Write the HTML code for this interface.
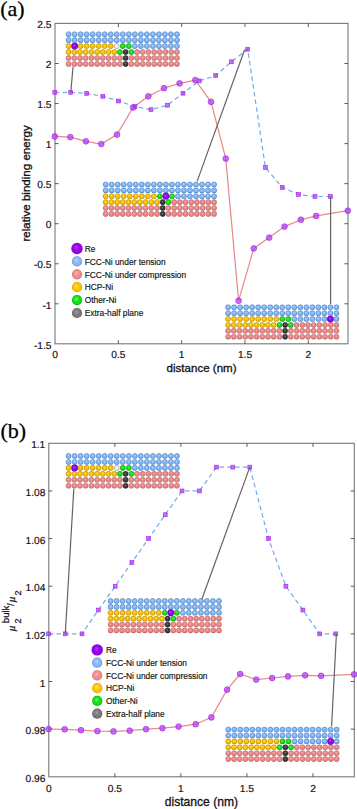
<!DOCTYPE html><html><head><meta charset="utf-8"><style>html,body{margin:0;padding:0;background:#fff;overflow:hidden;width:357px;height:809px;}svg{display:block;}</style></head><body>
<svg width="357" height="809" viewBox="0 0 357 809">
<defs>
<radialGradient id="gb" cx="0.5" cy="0.5" r="0.5" fx="0.42" fy="0.36"><stop offset="0" stop-color="#b4d8ff"/><stop offset="0.5" stop-color="#80b6f4"/><stop offset="0.78" stop-color="#80b6f4"/><stop offset="1" stop-color="#4f86cf"/></radialGradient>
<radialGradient id="gy" cx="0.5" cy="0.5" r="0.5" fx="0.42" fy="0.36"><stop offset="0" stop-color="#ffe060"/><stop offset="0.5" stop-color="#f7c300"/><stop offset="0.78" stop-color="#f7c300"/><stop offset="1" stop-color="#c99500"/></radialGradient>
<radialGradient id="gp" cx="0.5" cy="0.5" r="0.5" fx="0.42" fy="0.36"><stop offset="0" stop-color="#ffb0b0"/><stop offset="0.5" stop-color="#ec8686"/><stop offset="0.78" stop-color="#ec8686"/><stop offset="1" stop-color="#bf5c5c"/></radialGradient>
<radialGradient id="gg" cx="0.5" cy="0.5" r="0.5" fx="0.42" fy="0.36"><stop offset="0" stop-color="#60ff60"/><stop offset="0.5" stop-color="#14e014"/><stop offset="0.78" stop-color="#14e014"/><stop offset="1" stop-color="#089a08"/></radialGradient>
<radialGradient id="gk" cx="0.5" cy="0.5" r="0.5" fx="0.42" fy="0.36"><stop offset="0" stop-color="#7a7a7a"/><stop offset="0.5" stop-color="#3a3a3a"/><stop offset="0.78" stop-color="#3a3a3a"/><stop offset="1" stop-color="#1c1c1c"/></radialGradient>
<radialGradient id="gw" cx="0.5" cy="0.5" r="0.5" fx="0.42" fy="0.36"><stop offset="0" stop-color="#ffffff"/><stop offset="0.5" stop-color="#ececec"/><stop offset="0.78" stop-color="#ececec"/><stop offset="1" stop-color="#a8a8a8"/></radialGradient>
<radialGradient id="gv" cx="0.5" cy="0.5" r="0.5" fx="0.42" fy="0.36"><stop offset="0" stop-color="#b44cff"/><stop offset="0.5" stop-color="#9400ea"/><stop offset="0.78" stop-color="#9400ea"/><stop offset="1" stop-color="#6c00b0"/></radialGradient>
<radialGradient id="Lv" cx="0.5" cy="0.5" r="0.5" fx="0.42" fy="0.36"><stop offset="0" stop-color="#b040ff"/><stop offset="0.5" stop-color="#9800ee"/><stop offset="0.78" stop-color="#9800ee"/><stop offset="1" stop-color="#7a00c4"/></radialGradient>
<radialGradient id="Lb" cx="0.5" cy="0.5" r="0.5" fx="0.42" fy="0.36"><stop offset="0" stop-color="#b8d8ff"/><stop offset="0.5" stop-color="#8ab8f6"/><stop offset="0.78" stop-color="#8ab8f6"/><stop offset="1" stop-color="#5a8cd0"/></radialGradient>
<radialGradient id="Lp" cx="0.5" cy="0.5" r="0.5" fx="0.42" fy="0.36"><stop offset="0" stop-color="#ffb6b6"/><stop offset="0.5" stop-color="#f08c8c"/><stop offset="0.78" stop-color="#f08c8c"/><stop offset="1" stop-color="#c86a6a"/></radialGradient>
<radialGradient id="Ly" cx="0.5" cy="0.5" r="0.5" fx="0.42" fy="0.36"><stop offset="0" stop-color="#ffe070"/><stop offset="0.5" stop-color="#fcc500"/><stop offset="0.78" stop-color="#fcc500"/><stop offset="1" stop-color="#cc9a00"/></radialGradient>
<radialGradient id="Lg" cx="0.5" cy="0.5" r="0.5" fx="0.42" fy="0.36"><stop offset="0" stop-color="#70ff70"/><stop offset="0.5" stop-color="#14e014"/><stop offset="0.78" stop-color="#14e014"/><stop offset="1" stop-color="#0a9a0a"/></radialGradient>
<radialGradient id="Lk2" cx="0.5" cy="0.5" r="0.5" fx="0.42" fy="0.36"><stop offset="0" stop-color="#a4a4a4"/><stop offset="0.5" stop-color="#7a7a7a"/><stop offset="0.78" stop-color="#7a7a7a"/><stop offset="1" stop-color="#555555"/></radialGradient>
</defs>
<rect width="357" height="809" fill="#fff"/>
<text x="0.2" y="15.9" font-family='"Liberation Serif", serif' font-size="22" stroke="#000" stroke-width="0.25">(a)</text>
<rect x="55" y="23.4" width="293" height="320.4" fill="none" stroke="#787878" stroke-width="1.1"/>
<g stroke="#404040" stroke-width="0.85"><line x1="55" y1="63.5" x2="58.6" y2="63.5"/><line x1="348" y1="63.5" x2="344.4" y2="63.5"/><line x1="55" y1="103.55" x2="58.6" y2="103.55"/><line x1="348" y1="103.55" x2="344.4" y2="103.55"/><line x1="55" y1="143.6" x2="58.6" y2="143.6"/><line x1="348" y1="143.6" x2="344.4" y2="143.6"/><line x1="55" y1="183.65" x2="58.6" y2="183.65"/><line x1="348" y1="183.65" x2="344.4" y2="183.65"/><line x1="55" y1="223.7" x2="58.6" y2="223.7"/><line x1="348" y1="223.7" x2="344.4" y2="223.7"/><line x1="55" y1="263.75" x2="58.6" y2="263.75"/><line x1="348" y1="263.75" x2="344.4" y2="263.75"/><line x1="55" y1="303.8" x2="58.6" y2="303.8"/><line x1="348" y1="303.8" x2="344.4" y2="303.8"/><line x1="118.33" y1="343.8" x2="118.33" y2="340.2"/><line x1="118.33" y1="23.4" x2="118.33" y2="27"/><line x1="181.65" y1="343.8" x2="181.65" y2="340.2"/><line x1="181.65" y1="23.4" x2="181.65" y2="27"/><line x1="244.98" y1="343.8" x2="244.98" y2="340.2"/><line x1="244.98" y1="23.4" x2="244.98" y2="27"/><line x1="308.3" y1="343.8" x2="308.3" y2="340.2"/><line x1="308.3" y1="23.4" x2="308.3" y2="27"/></g>
<g font-family='"Liberation Sans", sans-serif' font-size="10.2" fill="#111" stroke="#111" stroke-width="0.18" text-rendering="geometricPrecision"><text x="51.5" y="28.15" text-anchor="end">2.5</text><text x="51.5" y="68.2" text-anchor="end">2</text><text x="51.5" y="108.25" text-anchor="end">1.5</text><text x="51.5" y="148.3" text-anchor="end">1</text><text x="51.5" y="188.35" text-anchor="end">0.5</text><text x="51.5" y="228.4" text-anchor="end">0</text><text x="51.5" y="268.45" text-anchor="end">-0.5</text><text x="51.5" y="308.5" text-anchor="end">-1</text><text x="51.5" y="348.55" text-anchor="end">-1.5</text><text x="55" y="358.1" text-anchor="middle">0</text><text x="118.33" y="358.1" text-anchor="middle">0.5</text><text x="181.65" y="358.1" text-anchor="middle">1</text><text x="244.98" y="358.1" text-anchor="middle">1.5</text><text x="308.3" y="358.1" text-anchor="middle">2</text></g>
<circle cx="68.6" cy="34.2" r="2.55" fill="url(#gb)" stroke="#4f7fc0" stroke-width="0.5"/>
<circle cx="74.62" cy="34.2" r="2.55" fill="url(#gb)" stroke="#4f7fc0" stroke-width="0.5"/>
<circle cx="80.64" cy="34.2" r="2.55" fill="url(#gb)" stroke="#4f7fc0" stroke-width="0.5"/>
<circle cx="86.66" cy="34.2" r="2.55" fill="url(#gb)" stroke="#4f7fc0" stroke-width="0.5"/>
<circle cx="92.68" cy="34.2" r="2.55" fill="url(#gb)" stroke="#4f7fc0" stroke-width="0.5"/>
<circle cx="98.7" cy="34.2" r="2.55" fill="url(#gb)" stroke="#4f7fc0" stroke-width="0.5"/>
<circle cx="104.72" cy="34.2" r="2.55" fill="url(#gb)" stroke="#4f7fc0" stroke-width="0.5"/>
<circle cx="110.74" cy="34.2" r="2.55" fill="url(#gb)" stroke="#4f7fc0" stroke-width="0.5"/>
<circle cx="116.76" cy="34.2" r="2.55" fill="url(#gb)" stroke="#4f7fc0" stroke-width="0.5"/>
<circle cx="122.78" cy="34.2" r="2.55" fill="url(#gb)" stroke="#4f7fc0" stroke-width="0.5"/>
<circle cx="128.8" cy="34.2" r="2.55" fill="url(#gb)" stroke="#4f7fc0" stroke-width="0.5"/>
<circle cx="134.82" cy="34.2" r="2.55" fill="url(#gb)" stroke="#4f7fc0" stroke-width="0.5"/>
<circle cx="140.84" cy="34.2" r="2.55" fill="url(#gb)" stroke="#4f7fc0" stroke-width="0.5"/>
<circle cx="146.86" cy="34.2" r="2.55" fill="url(#gb)" stroke="#4f7fc0" stroke-width="0.5"/>
<circle cx="152.88" cy="34.2" r="2.55" fill="url(#gb)" stroke="#4f7fc0" stroke-width="0.5"/>
<circle cx="158.9" cy="34.2" r="2.55" fill="url(#gb)" stroke="#4f7fc0" stroke-width="0.5"/>
<circle cx="164.92" cy="34.2" r="2.55" fill="url(#gb)" stroke="#4f7fc0" stroke-width="0.5"/>
<circle cx="170.94" cy="34.2" r="2.55" fill="url(#gb)" stroke="#4f7fc0" stroke-width="0.5"/>
<circle cx="176.96" cy="34.2" r="2.55" fill="url(#gb)" stroke="#4f7fc0" stroke-width="0.5"/>
<circle cx="68.6" cy="40.15" r="2.55" fill="url(#gb)" stroke="#4f7fc0" stroke-width="0.5"/>
<circle cx="74.62" cy="40.15" r="2.55" fill="url(#gb)" stroke="#4f7fc0" stroke-width="0.5"/>
<circle cx="80.64" cy="40.15" r="2.55" fill="url(#gb)" stroke="#4f7fc0" stroke-width="0.5"/>
<circle cx="86.66" cy="40.15" r="2.55" fill="url(#gb)" stroke="#4f7fc0" stroke-width="0.5"/>
<circle cx="92.68" cy="40.15" r="2.55" fill="url(#gb)" stroke="#4f7fc0" stroke-width="0.5"/>
<circle cx="98.7" cy="40.15" r="2.55" fill="url(#gb)" stroke="#4f7fc0" stroke-width="0.5"/>
<circle cx="104.72" cy="40.15" r="2.55" fill="url(#gb)" stroke="#4f7fc0" stroke-width="0.5"/>
<circle cx="110.74" cy="40.15" r="2.55" fill="url(#gb)" stroke="#4f7fc0" stroke-width="0.5"/>
<circle cx="116.76" cy="40.15" r="2.55" fill="url(#gb)" stroke="#4f7fc0" stroke-width="0.5"/>
<circle cx="122.78" cy="40.15" r="2.55" fill="url(#gb)" stroke="#4f7fc0" stroke-width="0.5"/>
<circle cx="128.8" cy="40.15" r="2.55" fill="url(#gb)" stroke="#4f7fc0" stroke-width="0.5"/>
<circle cx="134.82" cy="40.15" r="2.55" fill="url(#gb)" stroke="#4f7fc0" stroke-width="0.5"/>
<circle cx="140.84" cy="40.15" r="2.55" fill="url(#gb)" stroke="#4f7fc0" stroke-width="0.5"/>
<circle cx="146.86" cy="40.15" r="2.55" fill="url(#gb)" stroke="#4f7fc0" stroke-width="0.5"/>
<circle cx="152.88" cy="40.15" r="2.55" fill="url(#gb)" stroke="#4f7fc0" stroke-width="0.5"/>
<circle cx="158.9" cy="40.15" r="2.55" fill="url(#gb)" stroke="#4f7fc0" stroke-width="0.5"/>
<circle cx="164.92" cy="40.15" r="2.55" fill="url(#gb)" stroke="#4f7fc0" stroke-width="0.5"/>
<circle cx="170.94" cy="40.15" r="2.55" fill="url(#gb)" stroke="#4f7fc0" stroke-width="0.5"/>
<circle cx="176.96" cy="40.15" r="2.55" fill="url(#gb)" stroke="#4f7fc0" stroke-width="0.5"/>
<circle cx="68.6" cy="46.1" r="2.55" fill="url(#gy)" stroke="#b88a00" stroke-width="0.5"/>
<circle cx="80.64" cy="46.1" r="2.55" fill="url(#gy)" stroke="#b88a00" stroke-width="0.5"/>
<circle cx="86.66" cy="46.1" r="2.55" fill="url(#gy)" stroke="#b88a00" stroke-width="0.5"/>
<circle cx="92.68" cy="46.1" r="2.55" fill="url(#gy)" stroke="#b88a00" stroke-width="0.5"/>
<circle cx="98.7" cy="46.1" r="2.55" fill="url(#gy)" stroke="#b88a00" stroke-width="0.5"/>
<circle cx="104.72" cy="46.1" r="2.55" fill="url(#gy)" stroke="#b88a00" stroke-width="0.5"/>
<circle cx="110.74" cy="46.1" r="2.55" fill="url(#gy)" stroke="#b88a00" stroke-width="0.5"/>
<circle cx="116.76" cy="46.1" r="2.55" fill="url(#gw)" stroke="#a0a0a0" stroke-width="0.5"/>
<circle cx="122.78" cy="46.1" r="2.55" fill="url(#gg)" stroke="#0a9a0a" stroke-width="0.5"/>
<circle cx="128.8" cy="46.1" r="2.55" fill="url(#gg)" stroke="#0a9a0a" stroke-width="0.5"/>
<circle cx="134.82" cy="46.1" r="2.55" fill="url(#gb)" stroke="#4f7fc0" stroke-width="0.5"/>
<circle cx="140.84" cy="46.1" r="2.55" fill="url(#gb)" stroke="#4f7fc0" stroke-width="0.5"/>
<circle cx="146.86" cy="46.1" r="2.55" fill="url(#gb)" stroke="#4f7fc0" stroke-width="0.5"/>
<circle cx="152.88" cy="46.1" r="2.55" fill="url(#gb)" stroke="#4f7fc0" stroke-width="0.5"/>
<circle cx="158.9" cy="46.1" r="2.55" fill="url(#gb)" stroke="#4f7fc0" stroke-width="0.5"/>
<circle cx="164.92" cy="46.1" r="2.55" fill="url(#gb)" stroke="#4f7fc0" stroke-width="0.5"/>
<circle cx="170.94" cy="46.1" r="2.55" fill="url(#gb)" stroke="#4f7fc0" stroke-width="0.5"/>
<circle cx="176.96" cy="46.1" r="2.55" fill="url(#gb)" stroke="#4f7fc0" stroke-width="0.5"/>
<circle cx="68.6" cy="52.05" r="2.55" fill="url(#gy)" stroke="#b88a00" stroke-width="0.5"/>
<circle cx="74.3" cy="52.05" r="2.55" fill="url(#gy)" stroke="#b88a00" stroke-width="0.5"/>
<circle cx="80.01" cy="52.05" r="2.55" fill="url(#gy)" stroke="#b88a00" stroke-width="0.5"/>
<circle cx="85.71" cy="52.05" r="2.55" fill="url(#gy)" stroke="#b88a00" stroke-width="0.5"/>
<circle cx="91.41" cy="52.05" r="2.55" fill="url(#gy)" stroke="#b88a00" stroke-width="0.5"/>
<circle cx="97.12" cy="52.05" r="2.55" fill="url(#gy)" stroke="#b88a00" stroke-width="0.5"/>
<circle cx="102.82" cy="52.05" r="2.55" fill="url(#gy)" stroke="#b88a00" stroke-width="0.5"/>
<circle cx="108.52" cy="52.05" r="2.55" fill="url(#gy)" stroke="#b88a00" stroke-width="0.5"/>
<circle cx="114.23" cy="52.05" r="2.55" fill="url(#gy)" stroke="#b88a00" stroke-width="0.5"/>
<circle cx="119.93" cy="52.05" r="2.55" fill="url(#gg)" stroke="#0a9a0a" stroke-width="0.5"/>
<circle cx="125.63" cy="52.05" r="2.55" fill="url(#gk)" stroke="#1c1c1c" stroke-width="0.5"/>
<circle cx="131.33" cy="52.05" r="2.55" fill="url(#gg)" stroke="#0a9a0a" stroke-width="0.5"/>
<circle cx="137.04" cy="52.05" r="2.55" fill="url(#gp)" stroke="#b86868" stroke-width="0.5"/>
<circle cx="142.74" cy="52.05" r="2.55" fill="url(#gp)" stroke="#b86868" stroke-width="0.5"/>
<circle cx="148.44" cy="52.05" r="2.55" fill="url(#gp)" stroke="#b86868" stroke-width="0.5"/>
<circle cx="154.15" cy="52.05" r="2.55" fill="url(#gp)" stroke="#b86868" stroke-width="0.5"/>
<circle cx="159.85" cy="52.05" r="2.55" fill="url(#gp)" stroke="#b86868" stroke-width="0.5"/>
<circle cx="165.55" cy="52.05" r="2.55" fill="url(#gp)" stroke="#b86868" stroke-width="0.5"/>
<circle cx="171.26" cy="52.05" r="2.55" fill="url(#gp)" stroke="#b86868" stroke-width="0.5"/>
<circle cx="176.96" cy="52.05" r="2.55" fill="url(#gp)" stroke="#b86868" stroke-width="0.5"/>
<circle cx="68.6" cy="58" r="2.55" fill="url(#gp)" stroke="#b86868" stroke-width="0.5"/>
<circle cx="74.3" cy="58" r="2.55" fill="url(#gp)" stroke="#b86868" stroke-width="0.5"/>
<circle cx="80.01" cy="58" r="2.55" fill="url(#gp)" stroke="#b86868" stroke-width="0.5"/>
<circle cx="85.71" cy="58" r="2.55" fill="url(#gp)" stroke="#b86868" stroke-width="0.5"/>
<circle cx="91.41" cy="58" r="2.55" fill="url(#gp)" stroke="#b86868" stroke-width="0.5"/>
<circle cx="97.12" cy="58" r="2.55" fill="url(#gp)" stroke="#b86868" stroke-width="0.5"/>
<circle cx="102.82" cy="58" r="2.55" fill="url(#gp)" stroke="#b86868" stroke-width="0.5"/>
<circle cx="108.52" cy="58" r="2.55" fill="url(#gp)" stroke="#b86868" stroke-width="0.5"/>
<circle cx="114.23" cy="58" r="2.55" fill="url(#gp)" stroke="#b86868" stroke-width="0.5"/>
<circle cx="119.93" cy="58" r="2.55" fill="url(#gp)" stroke="#b86868" stroke-width="0.5"/>
<circle cx="125.63" cy="58" r="2.55" fill="url(#gk)" stroke="#1c1c1c" stroke-width="0.5"/>
<circle cx="131.33" cy="58" r="2.55" fill="url(#gp)" stroke="#b86868" stroke-width="0.5"/>
<circle cx="137.04" cy="58" r="2.55" fill="url(#gp)" stroke="#b86868" stroke-width="0.5"/>
<circle cx="142.74" cy="58" r="2.55" fill="url(#gp)" stroke="#b86868" stroke-width="0.5"/>
<circle cx="148.44" cy="58" r="2.55" fill="url(#gp)" stroke="#b86868" stroke-width="0.5"/>
<circle cx="154.15" cy="58" r="2.55" fill="url(#gp)" stroke="#b86868" stroke-width="0.5"/>
<circle cx="159.85" cy="58" r="2.55" fill="url(#gp)" stroke="#b86868" stroke-width="0.5"/>
<circle cx="165.55" cy="58" r="2.55" fill="url(#gp)" stroke="#b86868" stroke-width="0.5"/>
<circle cx="171.26" cy="58" r="2.55" fill="url(#gp)" stroke="#b86868" stroke-width="0.5"/>
<circle cx="176.96" cy="58" r="2.55" fill="url(#gp)" stroke="#b86868" stroke-width="0.5"/>
<circle cx="68.6" cy="63.95" r="2.55" fill="url(#gp)" stroke="#b86868" stroke-width="0.5"/>
<circle cx="74.3" cy="63.95" r="2.55" fill="url(#gp)" stroke="#b86868" stroke-width="0.5"/>
<circle cx="80.01" cy="63.95" r="2.55" fill="url(#gp)" stroke="#b86868" stroke-width="0.5"/>
<circle cx="85.71" cy="63.95" r="2.55" fill="url(#gp)" stroke="#b86868" stroke-width="0.5"/>
<circle cx="91.41" cy="63.95" r="2.55" fill="url(#gp)" stroke="#b86868" stroke-width="0.5"/>
<circle cx="97.12" cy="63.95" r="2.55" fill="url(#gp)" stroke="#b86868" stroke-width="0.5"/>
<circle cx="102.82" cy="63.95" r="2.55" fill="url(#gp)" stroke="#b86868" stroke-width="0.5"/>
<circle cx="108.52" cy="63.95" r="2.55" fill="url(#gp)" stroke="#b86868" stroke-width="0.5"/>
<circle cx="114.23" cy="63.95" r="2.55" fill="url(#gp)" stroke="#b86868" stroke-width="0.5"/>
<circle cx="119.93" cy="63.95" r="2.55" fill="url(#gp)" stroke="#b86868" stroke-width="0.5"/>
<circle cx="125.63" cy="63.95" r="2.55" fill="url(#gk)" stroke="#1c1c1c" stroke-width="0.5"/>
<circle cx="131.33" cy="63.95" r="2.55" fill="url(#gp)" stroke="#b86868" stroke-width="0.5"/>
<circle cx="137.04" cy="63.95" r="2.55" fill="url(#gp)" stroke="#b86868" stroke-width="0.5"/>
<circle cx="142.74" cy="63.95" r="2.55" fill="url(#gp)" stroke="#b86868" stroke-width="0.5"/>
<circle cx="148.44" cy="63.95" r="2.55" fill="url(#gp)" stroke="#b86868" stroke-width="0.5"/>
<circle cx="154.15" cy="63.95" r="2.55" fill="url(#gp)" stroke="#b86868" stroke-width="0.5"/>
<circle cx="159.85" cy="63.95" r="2.55" fill="url(#gp)" stroke="#b86868" stroke-width="0.5"/>
<circle cx="165.55" cy="63.95" r="2.55" fill="url(#gp)" stroke="#b86868" stroke-width="0.5"/>
<circle cx="171.26" cy="63.95" r="2.55" fill="url(#gp)" stroke="#b86868" stroke-width="0.5"/>
<circle cx="176.96" cy="63.95" r="2.55" fill="url(#gp)" stroke="#b86868" stroke-width="0.5"/>
<circle cx="74.62" cy="46.1" r="3.4" fill="url(#gv)"/>
<circle cx="105.7" cy="184.5" r="2.55" fill="url(#gb)" stroke="#4f7fc0" stroke-width="0.5"/>
<circle cx="111.72" cy="184.5" r="2.55" fill="url(#gb)" stroke="#4f7fc0" stroke-width="0.5"/>
<circle cx="117.74" cy="184.5" r="2.55" fill="url(#gb)" stroke="#4f7fc0" stroke-width="0.5"/>
<circle cx="123.76" cy="184.5" r="2.55" fill="url(#gb)" stroke="#4f7fc0" stroke-width="0.5"/>
<circle cx="129.78" cy="184.5" r="2.55" fill="url(#gb)" stroke="#4f7fc0" stroke-width="0.5"/>
<circle cx="135.8" cy="184.5" r="2.55" fill="url(#gb)" stroke="#4f7fc0" stroke-width="0.5"/>
<circle cx="141.82" cy="184.5" r="2.55" fill="url(#gb)" stroke="#4f7fc0" stroke-width="0.5"/>
<circle cx="147.84" cy="184.5" r="2.55" fill="url(#gb)" stroke="#4f7fc0" stroke-width="0.5"/>
<circle cx="153.86" cy="184.5" r="2.55" fill="url(#gb)" stroke="#4f7fc0" stroke-width="0.5"/>
<circle cx="159.88" cy="184.5" r="2.55" fill="url(#gb)" stroke="#4f7fc0" stroke-width="0.5"/>
<circle cx="165.9" cy="184.5" r="2.55" fill="url(#gb)" stroke="#4f7fc0" stroke-width="0.5"/>
<circle cx="171.92" cy="184.5" r="2.55" fill="url(#gb)" stroke="#4f7fc0" stroke-width="0.5"/>
<circle cx="177.94" cy="184.5" r="2.55" fill="url(#gb)" stroke="#4f7fc0" stroke-width="0.5"/>
<circle cx="183.96" cy="184.5" r="2.55" fill="url(#gb)" stroke="#4f7fc0" stroke-width="0.5"/>
<circle cx="189.98" cy="184.5" r="2.55" fill="url(#gb)" stroke="#4f7fc0" stroke-width="0.5"/>
<circle cx="196" cy="184.5" r="2.55" fill="url(#gb)" stroke="#4f7fc0" stroke-width="0.5"/>
<circle cx="202.02" cy="184.5" r="2.55" fill="url(#gb)" stroke="#4f7fc0" stroke-width="0.5"/>
<circle cx="208.04" cy="184.5" r="2.55" fill="url(#gb)" stroke="#4f7fc0" stroke-width="0.5"/>
<circle cx="214.06" cy="184.5" r="2.55" fill="url(#gb)" stroke="#4f7fc0" stroke-width="0.5"/>
<circle cx="105.7" cy="190.38" r="2.55" fill="url(#gb)" stroke="#4f7fc0" stroke-width="0.5"/>
<circle cx="111.72" cy="190.38" r="2.55" fill="url(#gb)" stroke="#4f7fc0" stroke-width="0.5"/>
<circle cx="117.74" cy="190.38" r="2.55" fill="url(#gb)" stroke="#4f7fc0" stroke-width="0.5"/>
<circle cx="123.76" cy="190.38" r="2.55" fill="url(#gb)" stroke="#4f7fc0" stroke-width="0.5"/>
<circle cx="129.78" cy="190.38" r="2.55" fill="url(#gb)" stroke="#4f7fc0" stroke-width="0.5"/>
<circle cx="135.8" cy="190.38" r="2.55" fill="url(#gb)" stroke="#4f7fc0" stroke-width="0.5"/>
<circle cx="141.82" cy="190.38" r="2.55" fill="url(#gb)" stroke="#4f7fc0" stroke-width="0.5"/>
<circle cx="147.84" cy="190.38" r="2.55" fill="url(#gb)" stroke="#4f7fc0" stroke-width="0.5"/>
<circle cx="153.86" cy="190.38" r="2.55" fill="url(#gb)" stroke="#4f7fc0" stroke-width="0.5"/>
<circle cx="159.88" cy="190.38" r="2.55" fill="url(#gb)" stroke="#4f7fc0" stroke-width="0.5"/>
<circle cx="165.9" cy="190.38" r="2.55" fill="url(#gb)" stroke="#4f7fc0" stroke-width="0.5"/>
<circle cx="171.92" cy="190.38" r="2.55" fill="url(#gb)" stroke="#4f7fc0" stroke-width="0.5"/>
<circle cx="177.94" cy="190.38" r="2.55" fill="url(#gb)" stroke="#4f7fc0" stroke-width="0.5"/>
<circle cx="183.96" cy="190.38" r="2.55" fill="url(#gb)" stroke="#4f7fc0" stroke-width="0.5"/>
<circle cx="189.98" cy="190.38" r="2.55" fill="url(#gb)" stroke="#4f7fc0" stroke-width="0.5"/>
<circle cx="196" cy="190.38" r="2.55" fill="url(#gb)" stroke="#4f7fc0" stroke-width="0.5"/>
<circle cx="202.02" cy="190.38" r="2.55" fill="url(#gb)" stroke="#4f7fc0" stroke-width="0.5"/>
<circle cx="208.04" cy="190.38" r="2.55" fill="url(#gb)" stroke="#4f7fc0" stroke-width="0.5"/>
<circle cx="214.06" cy="190.38" r="2.55" fill="url(#gb)" stroke="#4f7fc0" stroke-width="0.5"/>
<circle cx="105.7" cy="196.26" r="2.55" fill="url(#gy)" stroke="#b88a00" stroke-width="0.5"/>
<circle cx="111.72" cy="196.26" r="2.55" fill="url(#gy)" stroke="#b88a00" stroke-width="0.5"/>
<circle cx="117.74" cy="196.26" r="2.55" fill="url(#gy)" stroke="#b88a00" stroke-width="0.5"/>
<circle cx="123.76" cy="196.26" r="2.55" fill="url(#gy)" stroke="#b88a00" stroke-width="0.5"/>
<circle cx="129.78" cy="196.26" r="2.55" fill="url(#gy)" stroke="#b88a00" stroke-width="0.5"/>
<circle cx="135.8" cy="196.26" r="2.55" fill="url(#gy)" stroke="#b88a00" stroke-width="0.5"/>
<circle cx="141.82" cy="196.26" r="2.55" fill="url(#gy)" stroke="#b88a00" stroke-width="0.5"/>
<circle cx="147.84" cy="196.26" r="2.55" fill="url(#gy)" stroke="#b88a00" stroke-width="0.5"/>
<circle cx="153.86" cy="196.26" r="2.55" fill="url(#gy)" stroke="#b88a00" stroke-width="0.5"/>
<circle cx="159.88" cy="196.26" r="2.55" fill="url(#gg)" stroke="#0a9a0a" stroke-width="0.5"/>
<circle cx="171.92" cy="196.26" r="2.55" fill="url(#gg)" stroke="#0a9a0a" stroke-width="0.5"/>
<circle cx="177.94" cy="196.26" r="2.55" fill="url(#gb)" stroke="#4f7fc0" stroke-width="0.5"/>
<circle cx="183.96" cy="196.26" r="2.55" fill="url(#gb)" stroke="#4f7fc0" stroke-width="0.5"/>
<circle cx="189.98" cy="196.26" r="2.55" fill="url(#gb)" stroke="#4f7fc0" stroke-width="0.5"/>
<circle cx="196" cy="196.26" r="2.55" fill="url(#gb)" stroke="#4f7fc0" stroke-width="0.5"/>
<circle cx="202.02" cy="196.26" r="2.55" fill="url(#gb)" stroke="#4f7fc0" stroke-width="0.5"/>
<circle cx="208.04" cy="196.26" r="2.55" fill="url(#gb)" stroke="#4f7fc0" stroke-width="0.5"/>
<circle cx="214.06" cy="196.26" r="2.55" fill="url(#gb)" stroke="#4f7fc0" stroke-width="0.5"/>
<circle cx="105.7" cy="202.14" r="2.55" fill="url(#gy)" stroke="#b88a00" stroke-width="0.5"/>
<circle cx="111.4" cy="202.14" r="2.55" fill="url(#gy)" stroke="#b88a00" stroke-width="0.5"/>
<circle cx="117.11" cy="202.14" r="2.55" fill="url(#gy)" stroke="#b88a00" stroke-width="0.5"/>
<circle cx="122.81" cy="202.14" r="2.55" fill="url(#gy)" stroke="#b88a00" stroke-width="0.5"/>
<circle cx="128.51" cy="202.14" r="2.55" fill="url(#gy)" stroke="#b88a00" stroke-width="0.5"/>
<circle cx="134.22" cy="202.14" r="2.55" fill="url(#gy)" stroke="#b88a00" stroke-width="0.5"/>
<circle cx="139.92" cy="202.14" r="2.55" fill="url(#gy)" stroke="#b88a00" stroke-width="0.5"/>
<circle cx="145.62" cy="202.14" r="2.55" fill="url(#gy)" stroke="#b88a00" stroke-width="0.5"/>
<circle cx="151.33" cy="202.14" r="2.55" fill="url(#gy)" stroke="#b88a00" stroke-width="0.5"/>
<circle cx="157.03" cy="202.14" r="2.55" fill="url(#gy)" stroke="#b88a00" stroke-width="0.5"/>
<circle cx="162.73" cy="202.14" r="2.55" fill="url(#gk)" stroke="#1c1c1c" stroke-width="0.5"/>
<circle cx="168.43" cy="202.14" r="2.55" fill="url(#gg)" stroke="#0a9a0a" stroke-width="0.5"/>
<circle cx="174.14" cy="202.14" r="2.55" fill="url(#gp)" stroke="#b86868" stroke-width="0.5"/>
<circle cx="179.84" cy="202.14" r="2.55" fill="url(#gp)" stroke="#b86868" stroke-width="0.5"/>
<circle cx="185.54" cy="202.14" r="2.55" fill="url(#gp)" stroke="#b86868" stroke-width="0.5"/>
<circle cx="191.25" cy="202.14" r="2.55" fill="url(#gp)" stroke="#b86868" stroke-width="0.5"/>
<circle cx="196.95" cy="202.14" r="2.55" fill="url(#gp)" stroke="#b86868" stroke-width="0.5"/>
<circle cx="202.65" cy="202.14" r="2.55" fill="url(#gp)" stroke="#b86868" stroke-width="0.5"/>
<circle cx="208.36" cy="202.14" r="2.55" fill="url(#gp)" stroke="#b86868" stroke-width="0.5"/>
<circle cx="214.06" cy="202.14" r="2.55" fill="url(#gp)" stroke="#b86868" stroke-width="0.5"/>
<circle cx="105.7" cy="208.02" r="2.55" fill="url(#gp)" stroke="#b86868" stroke-width="0.5"/>
<circle cx="111.4" cy="208.02" r="2.55" fill="url(#gp)" stroke="#b86868" stroke-width="0.5"/>
<circle cx="117.11" cy="208.02" r="2.55" fill="url(#gp)" stroke="#b86868" stroke-width="0.5"/>
<circle cx="122.81" cy="208.02" r="2.55" fill="url(#gp)" stroke="#b86868" stroke-width="0.5"/>
<circle cx="128.51" cy="208.02" r="2.55" fill="url(#gp)" stroke="#b86868" stroke-width="0.5"/>
<circle cx="134.22" cy="208.02" r="2.55" fill="url(#gp)" stroke="#b86868" stroke-width="0.5"/>
<circle cx="139.92" cy="208.02" r="2.55" fill="url(#gp)" stroke="#b86868" stroke-width="0.5"/>
<circle cx="145.62" cy="208.02" r="2.55" fill="url(#gp)" stroke="#b86868" stroke-width="0.5"/>
<circle cx="151.33" cy="208.02" r="2.55" fill="url(#gp)" stroke="#b86868" stroke-width="0.5"/>
<circle cx="157.03" cy="208.02" r="2.55" fill="url(#gp)" stroke="#b86868" stroke-width="0.5"/>
<circle cx="162.73" cy="208.02" r="2.55" fill="url(#gk)" stroke="#1c1c1c" stroke-width="0.5"/>
<circle cx="168.43" cy="208.02" r="2.55" fill="url(#gp)" stroke="#b86868" stroke-width="0.5"/>
<circle cx="174.14" cy="208.02" r="2.55" fill="url(#gp)" stroke="#b86868" stroke-width="0.5"/>
<circle cx="179.84" cy="208.02" r="2.55" fill="url(#gp)" stroke="#b86868" stroke-width="0.5"/>
<circle cx="185.54" cy="208.02" r="2.55" fill="url(#gp)" stroke="#b86868" stroke-width="0.5"/>
<circle cx="191.25" cy="208.02" r="2.55" fill="url(#gp)" stroke="#b86868" stroke-width="0.5"/>
<circle cx="196.95" cy="208.02" r="2.55" fill="url(#gp)" stroke="#b86868" stroke-width="0.5"/>
<circle cx="202.65" cy="208.02" r="2.55" fill="url(#gp)" stroke="#b86868" stroke-width="0.5"/>
<circle cx="208.36" cy="208.02" r="2.55" fill="url(#gp)" stroke="#b86868" stroke-width="0.5"/>
<circle cx="214.06" cy="208.02" r="2.55" fill="url(#gp)" stroke="#b86868" stroke-width="0.5"/>
<circle cx="105.7" cy="213.9" r="2.55" fill="url(#gp)" stroke="#b86868" stroke-width="0.5"/>
<circle cx="111.4" cy="213.9" r="2.55" fill="url(#gp)" stroke="#b86868" stroke-width="0.5"/>
<circle cx="117.11" cy="213.9" r="2.55" fill="url(#gp)" stroke="#b86868" stroke-width="0.5"/>
<circle cx="122.81" cy="213.9" r="2.55" fill="url(#gp)" stroke="#b86868" stroke-width="0.5"/>
<circle cx="128.51" cy="213.9" r="2.55" fill="url(#gp)" stroke="#b86868" stroke-width="0.5"/>
<circle cx="134.22" cy="213.9" r="2.55" fill="url(#gp)" stroke="#b86868" stroke-width="0.5"/>
<circle cx="139.92" cy="213.9" r="2.55" fill="url(#gp)" stroke="#b86868" stroke-width="0.5"/>
<circle cx="145.62" cy="213.9" r="2.55" fill="url(#gp)" stroke="#b86868" stroke-width="0.5"/>
<circle cx="151.33" cy="213.9" r="2.55" fill="url(#gp)" stroke="#b86868" stroke-width="0.5"/>
<circle cx="157.03" cy="213.9" r="2.55" fill="url(#gp)" stroke="#b86868" stroke-width="0.5"/>
<circle cx="162.73" cy="213.9" r="2.55" fill="url(#gk)" stroke="#1c1c1c" stroke-width="0.5"/>
<circle cx="168.43" cy="213.9" r="2.55" fill="url(#gp)" stroke="#b86868" stroke-width="0.5"/>
<circle cx="174.14" cy="213.9" r="2.55" fill="url(#gp)" stroke="#b86868" stroke-width="0.5"/>
<circle cx="179.84" cy="213.9" r="2.55" fill="url(#gp)" stroke="#b86868" stroke-width="0.5"/>
<circle cx="185.54" cy="213.9" r="2.55" fill="url(#gp)" stroke="#b86868" stroke-width="0.5"/>
<circle cx="191.25" cy="213.9" r="2.55" fill="url(#gp)" stroke="#b86868" stroke-width="0.5"/>
<circle cx="196.95" cy="213.9" r="2.55" fill="url(#gp)" stroke="#b86868" stroke-width="0.5"/>
<circle cx="202.65" cy="213.9" r="2.55" fill="url(#gp)" stroke="#b86868" stroke-width="0.5"/>
<circle cx="208.36" cy="213.9" r="2.55" fill="url(#gp)" stroke="#b86868" stroke-width="0.5"/>
<circle cx="214.06" cy="213.9" r="2.55" fill="url(#gp)" stroke="#b86868" stroke-width="0.5"/>
<circle cx="165.9" cy="196.26" r="3.4" fill="url(#gv)"/>
<circle cx="228.1" cy="307.3" r="2.55" fill="url(#gb)" stroke="#4f7fc0" stroke-width="0.5"/>
<circle cx="234.12" cy="307.3" r="2.55" fill="url(#gb)" stroke="#4f7fc0" stroke-width="0.5"/>
<circle cx="240.14" cy="307.3" r="2.55" fill="url(#gb)" stroke="#4f7fc0" stroke-width="0.5"/>
<circle cx="246.16" cy="307.3" r="2.55" fill="url(#gb)" stroke="#4f7fc0" stroke-width="0.5"/>
<circle cx="252.18" cy="307.3" r="2.55" fill="url(#gb)" stroke="#4f7fc0" stroke-width="0.5"/>
<circle cx="258.2" cy="307.3" r="2.55" fill="url(#gb)" stroke="#4f7fc0" stroke-width="0.5"/>
<circle cx="264.22" cy="307.3" r="2.55" fill="url(#gb)" stroke="#4f7fc0" stroke-width="0.5"/>
<circle cx="270.24" cy="307.3" r="2.55" fill="url(#gb)" stroke="#4f7fc0" stroke-width="0.5"/>
<circle cx="276.26" cy="307.3" r="2.55" fill="url(#gb)" stroke="#4f7fc0" stroke-width="0.5"/>
<circle cx="282.28" cy="307.3" r="2.55" fill="url(#gb)" stroke="#4f7fc0" stroke-width="0.5"/>
<circle cx="288.3" cy="307.3" r="2.55" fill="url(#gb)" stroke="#4f7fc0" stroke-width="0.5"/>
<circle cx="294.32" cy="307.3" r="2.55" fill="url(#gb)" stroke="#4f7fc0" stroke-width="0.5"/>
<circle cx="300.34" cy="307.3" r="2.55" fill="url(#gb)" stroke="#4f7fc0" stroke-width="0.5"/>
<circle cx="306.36" cy="307.3" r="2.55" fill="url(#gb)" stroke="#4f7fc0" stroke-width="0.5"/>
<circle cx="312.38" cy="307.3" r="2.55" fill="url(#gb)" stroke="#4f7fc0" stroke-width="0.5"/>
<circle cx="318.4" cy="307.3" r="2.55" fill="url(#gb)" stroke="#4f7fc0" stroke-width="0.5"/>
<circle cx="324.42" cy="307.3" r="2.55" fill="url(#gb)" stroke="#4f7fc0" stroke-width="0.5"/>
<circle cx="330.44" cy="307.3" r="2.55" fill="url(#gb)" stroke="#4f7fc0" stroke-width="0.5"/>
<circle cx="336.46" cy="307.3" r="2.55" fill="url(#gb)" stroke="#4f7fc0" stroke-width="0.5"/>
<circle cx="228.1" cy="313.18" r="2.55" fill="url(#gb)" stroke="#4f7fc0" stroke-width="0.5"/>
<circle cx="234.12" cy="313.18" r="2.55" fill="url(#gb)" stroke="#4f7fc0" stroke-width="0.5"/>
<circle cx="240.14" cy="313.18" r="2.55" fill="url(#gb)" stroke="#4f7fc0" stroke-width="0.5"/>
<circle cx="246.16" cy="313.18" r="2.55" fill="url(#gb)" stroke="#4f7fc0" stroke-width="0.5"/>
<circle cx="252.18" cy="313.18" r="2.55" fill="url(#gb)" stroke="#4f7fc0" stroke-width="0.5"/>
<circle cx="258.2" cy="313.18" r="2.55" fill="url(#gb)" stroke="#4f7fc0" stroke-width="0.5"/>
<circle cx="264.22" cy="313.18" r="2.55" fill="url(#gb)" stroke="#4f7fc0" stroke-width="0.5"/>
<circle cx="270.24" cy="313.18" r="2.55" fill="url(#gb)" stroke="#4f7fc0" stroke-width="0.5"/>
<circle cx="276.26" cy="313.18" r="2.55" fill="url(#gb)" stroke="#4f7fc0" stroke-width="0.5"/>
<circle cx="282.28" cy="313.18" r="2.55" fill="url(#gb)" stroke="#4f7fc0" stroke-width="0.5"/>
<circle cx="288.3" cy="313.18" r="2.55" fill="url(#gb)" stroke="#4f7fc0" stroke-width="0.5"/>
<circle cx="294.32" cy="313.18" r="2.55" fill="url(#gb)" stroke="#4f7fc0" stroke-width="0.5"/>
<circle cx="300.34" cy="313.18" r="2.55" fill="url(#gb)" stroke="#4f7fc0" stroke-width="0.5"/>
<circle cx="306.36" cy="313.18" r="2.55" fill="url(#gb)" stroke="#4f7fc0" stroke-width="0.5"/>
<circle cx="312.38" cy="313.18" r="2.55" fill="url(#gb)" stroke="#4f7fc0" stroke-width="0.5"/>
<circle cx="318.4" cy="313.18" r="2.55" fill="url(#gb)" stroke="#4f7fc0" stroke-width="0.5"/>
<circle cx="324.42" cy="313.18" r="2.55" fill="url(#gb)" stroke="#4f7fc0" stroke-width="0.5"/>
<circle cx="330.44" cy="313.18" r="2.55" fill="url(#gb)" stroke="#4f7fc0" stroke-width="0.5"/>
<circle cx="336.46" cy="313.18" r="2.55" fill="url(#gb)" stroke="#4f7fc0" stroke-width="0.5"/>
<circle cx="228.1" cy="319.06" r="2.55" fill="url(#gy)" stroke="#b88a00" stroke-width="0.5"/>
<circle cx="234.12" cy="319.06" r="2.55" fill="url(#gy)" stroke="#b88a00" stroke-width="0.5"/>
<circle cx="240.14" cy="319.06" r="2.55" fill="url(#gy)" stroke="#b88a00" stroke-width="0.5"/>
<circle cx="246.16" cy="319.06" r="2.55" fill="url(#gy)" stroke="#b88a00" stroke-width="0.5"/>
<circle cx="252.18" cy="319.06" r="2.55" fill="url(#gy)" stroke="#b88a00" stroke-width="0.5"/>
<circle cx="258.2" cy="319.06" r="2.55" fill="url(#gy)" stroke="#b88a00" stroke-width="0.5"/>
<circle cx="264.22" cy="319.06" r="2.55" fill="url(#gy)" stroke="#b88a00" stroke-width="0.5"/>
<circle cx="270.24" cy="319.06" r="2.55" fill="url(#gy)" stroke="#b88a00" stroke-width="0.5"/>
<circle cx="276.26" cy="319.06" r="2.55" fill="url(#gy)" stroke="#b88a00" stroke-width="0.5"/>
<circle cx="282.28" cy="319.06" r="2.55" fill="url(#gg)" stroke="#0a9a0a" stroke-width="0.5"/>
<circle cx="288.3" cy="319.06" r="2.55" fill="url(#gg)" stroke="#0a9a0a" stroke-width="0.5"/>
<circle cx="294.32" cy="319.06" r="2.55" fill="url(#gb)" stroke="#4f7fc0" stroke-width="0.5"/>
<circle cx="300.34" cy="319.06" r="2.55" fill="url(#gb)" stroke="#4f7fc0" stroke-width="0.5"/>
<circle cx="306.36" cy="319.06" r="2.55" fill="url(#gb)" stroke="#4f7fc0" stroke-width="0.5"/>
<circle cx="312.38" cy="319.06" r="2.55" fill="url(#gb)" stroke="#4f7fc0" stroke-width="0.5"/>
<circle cx="318.4" cy="319.06" r="2.55" fill="url(#gb)" stroke="#4f7fc0" stroke-width="0.5"/>
<circle cx="324.42" cy="319.06" r="2.55" fill="url(#gb)" stroke="#4f7fc0" stroke-width="0.5"/>
<circle cx="336.46" cy="319.06" r="2.55" fill="url(#gb)" stroke="#4f7fc0" stroke-width="0.5"/>
<circle cx="228.1" cy="324.94" r="2.55" fill="url(#gy)" stroke="#b88a00" stroke-width="0.5"/>
<circle cx="233.8" cy="324.94" r="2.55" fill="url(#gy)" stroke="#b88a00" stroke-width="0.5"/>
<circle cx="239.51" cy="324.94" r="2.55" fill="url(#gy)" stroke="#b88a00" stroke-width="0.5"/>
<circle cx="245.21" cy="324.94" r="2.55" fill="url(#gy)" stroke="#b88a00" stroke-width="0.5"/>
<circle cx="250.91" cy="324.94" r="2.55" fill="url(#gy)" stroke="#b88a00" stroke-width="0.5"/>
<circle cx="256.62" cy="324.94" r="2.55" fill="url(#gy)" stroke="#b88a00" stroke-width="0.5"/>
<circle cx="262.32" cy="324.94" r="2.55" fill="url(#gy)" stroke="#b88a00" stroke-width="0.5"/>
<circle cx="268.02" cy="324.94" r="2.55" fill="url(#gy)" stroke="#b88a00" stroke-width="0.5"/>
<circle cx="273.73" cy="324.94" r="2.55" fill="url(#gy)" stroke="#b88a00" stroke-width="0.5"/>
<circle cx="279.43" cy="324.94" r="2.55" fill="url(#gg)" stroke="#0a9a0a" stroke-width="0.5"/>
<circle cx="285.13" cy="324.94" r="2.55" fill="url(#gk)" stroke="#1c1c1c" stroke-width="0.5"/>
<circle cx="290.83" cy="324.94" r="2.55" fill="url(#gg)" stroke="#0a9a0a" stroke-width="0.5"/>
<circle cx="296.54" cy="324.94" r="2.55" fill="url(#gp)" stroke="#b86868" stroke-width="0.5"/>
<circle cx="302.24" cy="324.94" r="2.55" fill="url(#gp)" stroke="#b86868" stroke-width="0.5"/>
<circle cx="307.94" cy="324.94" r="2.55" fill="url(#gp)" stroke="#b86868" stroke-width="0.5"/>
<circle cx="313.65" cy="324.94" r="2.55" fill="url(#gp)" stroke="#b86868" stroke-width="0.5"/>
<circle cx="319.35" cy="324.94" r="2.55" fill="url(#gp)" stroke="#b86868" stroke-width="0.5"/>
<circle cx="325.05" cy="324.94" r="2.55" fill="url(#gp)" stroke="#b86868" stroke-width="0.5"/>
<circle cx="330.76" cy="324.94" r="2.55" fill="url(#gp)" stroke="#b86868" stroke-width="0.5"/>
<circle cx="336.46" cy="324.94" r="2.55" fill="url(#gp)" stroke="#b86868" stroke-width="0.5"/>
<circle cx="228.1" cy="330.82" r="2.55" fill="url(#gp)" stroke="#b86868" stroke-width="0.5"/>
<circle cx="233.8" cy="330.82" r="2.55" fill="url(#gp)" stroke="#b86868" stroke-width="0.5"/>
<circle cx="239.51" cy="330.82" r="2.55" fill="url(#gp)" stroke="#b86868" stroke-width="0.5"/>
<circle cx="245.21" cy="330.82" r="2.55" fill="url(#gp)" stroke="#b86868" stroke-width="0.5"/>
<circle cx="250.91" cy="330.82" r="2.55" fill="url(#gp)" stroke="#b86868" stroke-width="0.5"/>
<circle cx="256.62" cy="330.82" r="2.55" fill="url(#gp)" stroke="#b86868" stroke-width="0.5"/>
<circle cx="262.32" cy="330.82" r="2.55" fill="url(#gp)" stroke="#b86868" stroke-width="0.5"/>
<circle cx="268.02" cy="330.82" r="2.55" fill="url(#gp)" stroke="#b86868" stroke-width="0.5"/>
<circle cx="273.73" cy="330.82" r="2.55" fill="url(#gp)" stroke="#b86868" stroke-width="0.5"/>
<circle cx="279.43" cy="330.82" r="2.55" fill="url(#gp)" stroke="#b86868" stroke-width="0.5"/>
<circle cx="285.13" cy="330.82" r="2.55" fill="url(#gk)" stroke="#1c1c1c" stroke-width="0.5"/>
<circle cx="290.83" cy="330.82" r="2.55" fill="url(#gp)" stroke="#b86868" stroke-width="0.5"/>
<circle cx="296.54" cy="330.82" r="2.55" fill="url(#gp)" stroke="#b86868" stroke-width="0.5"/>
<circle cx="302.24" cy="330.82" r="2.55" fill="url(#gp)" stroke="#b86868" stroke-width="0.5"/>
<circle cx="307.94" cy="330.82" r="2.55" fill="url(#gp)" stroke="#b86868" stroke-width="0.5"/>
<circle cx="313.65" cy="330.82" r="2.55" fill="url(#gp)" stroke="#b86868" stroke-width="0.5"/>
<circle cx="319.35" cy="330.82" r="2.55" fill="url(#gp)" stroke="#b86868" stroke-width="0.5"/>
<circle cx="325.05" cy="330.82" r="2.55" fill="url(#gp)" stroke="#b86868" stroke-width="0.5"/>
<circle cx="330.76" cy="330.82" r="2.55" fill="url(#gp)" stroke="#b86868" stroke-width="0.5"/>
<circle cx="336.46" cy="330.82" r="2.55" fill="url(#gp)" stroke="#b86868" stroke-width="0.5"/>
<circle cx="228.1" cy="336.7" r="2.55" fill="url(#gp)" stroke="#b86868" stroke-width="0.5"/>
<circle cx="233.8" cy="336.7" r="2.55" fill="url(#gp)" stroke="#b86868" stroke-width="0.5"/>
<circle cx="239.51" cy="336.7" r="2.55" fill="url(#gp)" stroke="#b86868" stroke-width="0.5"/>
<circle cx="245.21" cy="336.7" r="2.55" fill="url(#gp)" stroke="#b86868" stroke-width="0.5"/>
<circle cx="250.91" cy="336.7" r="2.55" fill="url(#gp)" stroke="#b86868" stroke-width="0.5"/>
<circle cx="256.62" cy="336.7" r="2.55" fill="url(#gp)" stroke="#b86868" stroke-width="0.5"/>
<circle cx="262.32" cy="336.7" r="2.55" fill="url(#gp)" stroke="#b86868" stroke-width="0.5"/>
<circle cx="268.02" cy="336.7" r="2.55" fill="url(#gp)" stroke="#b86868" stroke-width="0.5"/>
<circle cx="273.73" cy="336.7" r="2.55" fill="url(#gp)" stroke="#b86868" stroke-width="0.5"/>
<circle cx="279.43" cy="336.7" r="2.55" fill="url(#gp)" stroke="#b86868" stroke-width="0.5"/>
<circle cx="285.13" cy="336.7" r="2.55" fill="url(#gk)" stroke="#1c1c1c" stroke-width="0.5"/>
<circle cx="290.83" cy="336.7" r="2.55" fill="url(#gp)" stroke="#b86868" stroke-width="0.5"/>
<circle cx="296.54" cy="336.7" r="2.55" fill="url(#gp)" stroke="#b86868" stroke-width="0.5"/>
<circle cx="302.24" cy="336.7" r="2.55" fill="url(#gp)" stroke="#b86868" stroke-width="0.5"/>
<circle cx="307.94" cy="336.7" r="2.55" fill="url(#gp)" stroke="#b86868" stroke-width="0.5"/>
<circle cx="313.65" cy="336.7" r="2.55" fill="url(#gp)" stroke="#b86868" stroke-width="0.5"/>
<circle cx="319.35" cy="336.7" r="2.55" fill="url(#gp)" stroke="#b86868" stroke-width="0.5"/>
<circle cx="325.05" cy="336.7" r="2.55" fill="url(#gp)" stroke="#b86868" stroke-width="0.5"/>
<circle cx="330.76" cy="336.7" r="2.55" fill="url(#gp)" stroke="#b86868" stroke-width="0.5"/>
<circle cx="336.46" cy="336.7" r="2.55" fill="url(#gp)" stroke="#b86868" stroke-width="0.5"/>
<circle cx="330.44" cy="319.06" r="3.4" fill="url(#gv)"/>
<path d="M54.8 92.3 L70.7 92.3 L86.7 93.4 L102.8 96.3 L118.5 101 L134.9 106.6 L151 109.7 L167.6 105.2 L183 93.2 L199.2 80.9 L215.7 75.6 L231.4 61.8 L247.7 49.2 L265.4 167.5 L282.2 187.4 L298.5 194.5 L315 196.5 L330.4 196.5" fill="none" stroke="#74aaf0" stroke-width="1.2" stroke-dasharray="4.6 3.2"/>
<path d="M54.8 136.4 L70.3 137.1 L85.9 141.3 L101.3 144 L117 134.6 L133.1 107.5 L148.3 96.3 L164 88.2 L179.6 83.4 L195.3 80.1 L211 101.8 L225.8 158.6 L238.6 300.7 L253.8 248.4 L269.2 237.6 L284.5 226.6 L300.9 219.7 L316.1 215.9 L347.8 210.7" fill="none" stroke="#e5898a" stroke-width="1.2"/>
<rect x="52.85" y="90.35" width="3.9" height="3.9" fill="#b13cf0" fill-opacity="0.75" stroke="#a126ea" stroke-width="0.6"/>
<rect x="68.75" y="90.35" width="3.9" height="3.9" fill="#b13cf0" fill-opacity="0.75" stroke="#a126ea" stroke-width="0.6"/>
<rect x="84.75" y="91.45" width="3.9" height="3.9" fill="#b13cf0" fill-opacity="0.75" stroke="#a126ea" stroke-width="0.6"/>
<rect x="100.85" y="94.35" width="3.9" height="3.9" fill="#b13cf0" fill-opacity="0.75" stroke="#a126ea" stroke-width="0.6"/>
<rect x="116.55" y="99.05" width="3.9" height="3.9" fill="#b13cf0" fill-opacity="0.75" stroke="#a126ea" stroke-width="0.6"/>
<rect x="132.95" y="104.65" width="3.9" height="3.9" fill="#b13cf0" fill-opacity="0.75" stroke="#a126ea" stroke-width="0.6"/>
<rect x="149.05" y="107.75" width="3.9" height="3.9" fill="#b13cf0" fill-opacity="0.75" stroke="#a126ea" stroke-width="0.6"/>
<rect x="165.65" y="103.25" width="3.9" height="3.9" fill="#b13cf0" fill-opacity="0.75" stroke="#a126ea" stroke-width="0.6"/>
<rect x="181.05" y="91.25" width="3.9" height="3.9" fill="#b13cf0" fill-opacity="0.75" stroke="#a126ea" stroke-width="0.6"/>
<rect x="197.25" y="78.95" width="3.9" height="3.9" fill="#b13cf0" fill-opacity="0.75" stroke="#a126ea" stroke-width="0.6"/>
<rect x="213.75" y="73.65" width="3.9" height="3.9" fill="#b13cf0" fill-opacity="0.75" stroke="#a126ea" stroke-width="0.6"/>
<rect x="229.45" y="59.85" width="3.9" height="3.9" fill="#b13cf0" fill-opacity="0.75" stroke="#a126ea" stroke-width="0.6"/>
<rect x="245.75" y="47.25" width="3.9" height="3.9" fill="#b13cf0" fill-opacity="0.75" stroke="#a126ea" stroke-width="0.6"/>
<rect x="263.45" y="165.55" width="3.9" height="3.9" fill="#b13cf0" fill-opacity="0.75" stroke="#a126ea" stroke-width="0.6"/>
<rect x="280.25" y="185.45" width="3.9" height="3.9" fill="#b13cf0" fill-opacity="0.75" stroke="#a126ea" stroke-width="0.6"/>
<rect x="296.55" y="192.55" width="3.9" height="3.9" fill="#b13cf0" fill-opacity="0.75" stroke="#a126ea" stroke-width="0.6"/>
<rect x="313.05" y="194.55" width="3.9" height="3.9" fill="#b13cf0" fill-opacity="0.75" stroke="#a126ea" stroke-width="0.6"/>
<rect x="328.45" y="194.55" width="3.9" height="3.9" fill="#b13cf0" fill-opacity="0.75" stroke="#a126ea" stroke-width="0.6"/>
<circle cx="54.8" cy="136.4" r="2.85" fill="#b13cf0" fill-opacity="0.72" stroke="#a126ea" stroke-width="0.7"/>
<circle cx="70.3" cy="137.1" r="2.85" fill="#b13cf0" fill-opacity="0.72" stroke="#a126ea" stroke-width="0.7"/>
<circle cx="85.9" cy="141.3" r="2.85" fill="#b13cf0" fill-opacity="0.72" stroke="#a126ea" stroke-width="0.7"/>
<circle cx="101.3" cy="144" r="2.85" fill="#b13cf0" fill-opacity="0.72" stroke="#a126ea" stroke-width="0.7"/>
<circle cx="117" cy="134.6" r="2.85" fill="#b13cf0" fill-opacity="0.72" stroke="#a126ea" stroke-width="0.7"/>
<circle cx="133.1" cy="107.5" r="2.85" fill="#b13cf0" fill-opacity="0.72" stroke="#a126ea" stroke-width="0.7"/>
<circle cx="148.3" cy="96.3" r="2.85" fill="#b13cf0" fill-opacity="0.72" stroke="#a126ea" stroke-width="0.7"/>
<circle cx="164" cy="88.2" r="2.85" fill="#b13cf0" fill-opacity="0.72" stroke="#a126ea" stroke-width="0.7"/>
<circle cx="179.6" cy="83.4" r="2.85" fill="#b13cf0" fill-opacity="0.72" stroke="#a126ea" stroke-width="0.7"/>
<circle cx="195.3" cy="80.1" r="2.85" fill="#b13cf0" fill-opacity="0.72" stroke="#a126ea" stroke-width="0.7"/>
<circle cx="211" cy="101.8" r="2.85" fill="#b13cf0" fill-opacity="0.72" stroke="#a126ea" stroke-width="0.7"/>
<circle cx="225.8" cy="158.6" r="2.85" fill="#b13cf0" fill-opacity="0.72" stroke="#a126ea" stroke-width="0.7"/>
<circle cx="238.6" cy="300.7" r="2.85" fill="#b13cf0" fill-opacity="0.72" stroke="#a126ea" stroke-width="0.7"/>
<circle cx="253.8" cy="248.4" r="2.85" fill="#b13cf0" fill-opacity="0.72" stroke="#a126ea" stroke-width="0.7"/>
<circle cx="269.2" cy="237.6" r="2.85" fill="#b13cf0" fill-opacity="0.72" stroke="#a126ea" stroke-width="0.7"/>
<circle cx="284.5" cy="226.6" r="2.85" fill="#b13cf0" fill-opacity="0.72" stroke="#a126ea" stroke-width="0.7"/>
<circle cx="300.9" cy="219.7" r="2.85" fill="#b13cf0" fill-opacity="0.72" stroke="#a126ea" stroke-width="0.7"/>
<circle cx="316.1" cy="215.9" r="2.85" fill="#b13cf0" fill-opacity="0.72" stroke="#a126ea" stroke-width="0.7"/>
<circle cx="347.8" cy="210.7" r="2.85" fill="#b13cf0" fill-opacity="0.72" stroke="#a126ea" stroke-width="0.7"/>
<line x1="73" y1="67" x2="70.8" y2="92.2" stroke="#646464" stroke-width="1.2"/>
<line x1="197.1" y1="181.4" x2="244.6" y2="49.8" stroke="#646464" stroke-width="1.2"/>
<line x1="330.6" y1="196.5" x2="330.6" y2="304.1" stroke="#646464" stroke-width="1.2"/>
<circle cx="77" cy="248.5" r="5.7" fill="url(#Lv)"/>
<text x="84.7" y="251.7" font-family='"Liberation Sans", sans-serif' font-size="8.4" fill="#111" stroke="#111" stroke-width="0.15">Re</text>
<circle cx="77" cy="261.4" r="5.1" fill="url(#Lb)"/>
<text x="84.7" y="264.6" font-family='"Liberation Sans", sans-serif' font-size="8.4" fill="#111" stroke="#111" stroke-width="0.15">FCC-Ni under tension</text>
<circle cx="77" cy="274.3" r="5.1" fill="url(#Lp)"/>
<text x="84.7" y="277.5" font-family='"Liberation Sans", sans-serif' font-size="8.4" fill="#111" stroke="#111" stroke-width="0.15">FCC-Ni under compression</text>
<circle cx="77" cy="287.2" r="5.1" fill="url(#Ly)"/>
<text x="84.7" y="290.4" font-family='"Liberation Sans", sans-serif' font-size="8.4" fill="#111" stroke="#111" stroke-width="0.15">HCP-Ni</text>
<circle cx="77" cy="300.1" r="5.1" fill="url(#Lg)"/>
<text x="84.7" y="303.3" font-family='"Liberation Sans", sans-serif' font-size="8.4" fill="#111" stroke="#111" stroke-width="0.15">Other-Ni</text>
<circle cx="77" cy="313" r="5.1" fill="url(#Lk2)"/>
<text x="84.7" y="316.2" font-family='"Liberation Sans", sans-serif' font-size="8.4" fill="#111" stroke="#111" stroke-width="0.15">Extra-half plane</text>
<text transform="translate(30,183.4) rotate(-90)" text-anchor="middle" font-family='"Liberation Sans", sans-serif' font-size="11.55" fill="#111" stroke="#111" stroke-width="0.3">relative binding energy</text>
<text x="201.6" y="371.9" text-anchor="middle" font-family='"Liberation Sans", sans-serif' font-size="11.55" fill="#111" stroke="#111" stroke-width="0.3">distance (nm)</text>
<text x="0.4" y="437.6" font-family='"Liberation Serif", serif' font-size="22" stroke="#000" stroke-width="0.25">(b)</text>
<rect x="48.8" y="443.3" width="305.5" height="333.5" fill="none" stroke="#787878" stroke-width="1.1"/>
<g stroke="#404040" stroke-width="0.85"><line x1="48.8" y1="490.94" x2="52.4" y2="490.94"/><line x1="354.3" y1="490.94" x2="350.7" y2="490.94"/><line x1="48.8" y1="538.58" x2="52.4" y2="538.58"/><line x1="354.3" y1="538.58" x2="350.7" y2="538.58"/><line x1="48.8" y1="586.22" x2="52.4" y2="586.22"/><line x1="354.3" y1="586.22" x2="350.7" y2="586.22"/><line x1="48.8" y1="633.86" x2="52.4" y2="633.86"/><line x1="354.3" y1="633.86" x2="350.7" y2="633.86"/><line x1="48.8" y1="681.5" x2="52.4" y2="681.5"/><line x1="354.3" y1="681.5" x2="350.7" y2="681.5"/><line x1="48.8" y1="729.14" x2="52.4" y2="729.14"/><line x1="354.3" y1="729.14" x2="350.7" y2="729.14"/><line x1="114.85" y1="776.8" x2="114.85" y2="773.2"/><line x1="114.85" y1="443.3" x2="114.85" y2="446.9"/><line x1="180.9" y1="776.8" x2="180.9" y2="773.2"/><line x1="180.9" y1="443.3" x2="180.9" y2="446.9"/><line x1="246.95" y1="776.8" x2="246.95" y2="773.2"/><line x1="246.95" y1="443.3" x2="246.95" y2="446.9"/><line x1="313" y1="776.8" x2="313" y2="773.2"/><line x1="313" y1="443.3" x2="313" y2="446.9"/></g>
<g font-family='"Liberation Sans", sans-serif' font-size="10.2" fill="#111" stroke="#111" stroke-width="0.18" text-rendering="geometricPrecision"><text x="45.3" y="448.3" text-anchor="end">1.1</text><text x="45.3" y="495.94" text-anchor="end">1.08</text><text x="45.3" y="543.58" text-anchor="end">1.06</text><text x="45.3" y="591.22" text-anchor="end">1.04</text><text x="45.3" y="638.86" text-anchor="end">1.02</text><text x="45.3" y="686.5" text-anchor="end">1</text><text x="45.3" y="734.14" text-anchor="end">0.98</text><text x="45.3" y="781.78" text-anchor="end">0.96</text><text x="48.8" y="791.8" text-anchor="middle">0</text><text x="114.85" y="791.8" text-anchor="middle">0.5</text><text x="180.9" y="791.8" text-anchor="middle">1</text><text x="246.95" y="791.8" text-anchor="middle">1.5</text><text x="313" y="791.8" text-anchor="middle">2</text></g>
<circle cx="68.6" cy="456" r="2.55" fill="url(#gb)" stroke="#4f7fc0" stroke-width="0.5"/>
<circle cx="74.62" cy="456" r="2.55" fill="url(#gb)" stroke="#4f7fc0" stroke-width="0.5"/>
<circle cx="80.64" cy="456" r="2.55" fill="url(#gb)" stroke="#4f7fc0" stroke-width="0.5"/>
<circle cx="86.66" cy="456" r="2.55" fill="url(#gb)" stroke="#4f7fc0" stroke-width="0.5"/>
<circle cx="92.68" cy="456" r="2.55" fill="url(#gb)" stroke="#4f7fc0" stroke-width="0.5"/>
<circle cx="98.7" cy="456" r="2.55" fill="url(#gb)" stroke="#4f7fc0" stroke-width="0.5"/>
<circle cx="104.72" cy="456" r="2.55" fill="url(#gb)" stroke="#4f7fc0" stroke-width="0.5"/>
<circle cx="110.74" cy="456" r="2.55" fill="url(#gb)" stroke="#4f7fc0" stroke-width="0.5"/>
<circle cx="116.76" cy="456" r="2.55" fill="url(#gb)" stroke="#4f7fc0" stroke-width="0.5"/>
<circle cx="122.78" cy="456" r="2.55" fill="url(#gb)" stroke="#4f7fc0" stroke-width="0.5"/>
<circle cx="128.8" cy="456" r="2.55" fill="url(#gb)" stroke="#4f7fc0" stroke-width="0.5"/>
<circle cx="134.82" cy="456" r="2.55" fill="url(#gb)" stroke="#4f7fc0" stroke-width="0.5"/>
<circle cx="140.84" cy="456" r="2.55" fill="url(#gb)" stroke="#4f7fc0" stroke-width="0.5"/>
<circle cx="146.86" cy="456" r="2.55" fill="url(#gb)" stroke="#4f7fc0" stroke-width="0.5"/>
<circle cx="152.88" cy="456" r="2.55" fill="url(#gb)" stroke="#4f7fc0" stroke-width="0.5"/>
<circle cx="158.9" cy="456" r="2.55" fill="url(#gb)" stroke="#4f7fc0" stroke-width="0.5"/>
<circle cx="164.92" cy="456" r="2.55" fill="url(#gb)" stroke="#4f7fc0" stroke-width="0.5"/>
<circle cx="170.94" cy="456" r="2.55" fill="url(#gb)" stroke="#4f7fc0" stroke-width="0.5"/>
<circle cx="176.96" cy="456" r="2.55" fill="url(#gb)" stroke="#4f7fc0" stroke-width="0.5"/>
<circle cx="68.6" cy="461.95" r="2.55" fill="url(#gb)" stroke="#4f7fc0" stroke-width="0.5"/>
<circle cx="74.62" cy="461.95" r="2.55" fill="url(#gb)" stroke="#4f7fc0" stroke-width="0.5"/>
<circle cx="80.64" cy="461.95" r="2.55" fill="url(#gb)" stroke="#4f7fc0" stroke-width="0.5"/>
<circle cx="86.66" cy="461.95" r="2.55" fill="url(#gb)" stroke="#4f7fc0" stroke-width="0.5"/>
<circle cx="92.68" cy="461.95" r="2.55" fill="url(#gb)" stroke="#4f7fc0" stroke-width="0.5"/>
<circle cx="98.7" cy="461.95" r="2.55" fill="url(#gb)" stroke="#4f7fc0" stroke-width="0.5"/>
<circle cx="104.72" cy="461.95" r="2.55" fill="url(#gb)" stroke="#4f7fc0" stroke-width="0.5"/>
<circle cx="110.74" cy="461.95" r="2.55" fill="url(#gb)" stroke="#4f7fc0" stroke-width="0.5"/>
<circle cx="116.76" cy="461.95" r="2.55" fill="url(#gb)" stroke="#4f7fc0" stroke-width="0.5"/>
<circle cx="122.78" cy="461.95" r="2.55" fill="url(#gb)" stroke="#4f7fc0" stroke-width="0.5"/>
<circle cx="128.8" cy="461.95" r="2.55" fill="url(#gb)" stroke="#4f7fc0" stroke-width="0.5"/>
<circle cx="134.82" cy="461.95" r="2.55" fill="url(#gb)" stroke="#4f7fc0" stroke-width="0.5"/>
<circle cx="140.84" cy="461.95" r="2.55" fill="url(#gb)" stroke="#4f7fc0" stroke-width="0.5"/>
<circle cx="146.86" cy="461.95" r="2.55" fill="url(#gb)" stroke="#4f7fc0" stroke-width="0.5"/>
<circle cx="152.88" cy="461.95" r="2.55" fill="url(#gb)" stroke="#4f7fc0" stroke-width="0.5"/>
<circle cx="158.9" cy="461.95" r="2.55" fill="url(#gb)" stroke="#4f7fc0" stroke-width="0.5"/>
<circle cx="164.92" cy="461.95" r="2.55" fill="url(#gb)" stroke="#4f7fc0" stroke-width="0.5"/>
<circle cx="170.94" cy="461.95" r="2.55" fill="url(#gb)" stroke="#4f7fc0" stroke-width="0.5"/>
<circle cx="176.96" cy="461.95" r="2.55" fill="url(#gb)" stroke="#4f7fc0" stroke-width="0.5"/>
<circle cx="68.6" cy="467.9" r="2.55" fill="url(#gy)" stroke="#b88a00" stroke-width="0.5"/>
<circle cx="80.64" cy="467.9" r="2.55" fill="url(#gy)" stroke="#b88a00" stroke-width="0.5"/>
<circle cx="86.66" cy="467.9" r="2.55" fill="url(#gy)" stroke="#b88a00" stroke-width="0.5"/>
<circle cx="92.68" cy="467.9" r="2.55" fill="url(#gy)" stroke="#b88a00" stroke-width="0.5"/>
<circle cx="98.7" cy="467.9" r="2.55" fill="url(#gy)" stroke="#b88a00" stroke-width="0.5"/>
<circle cx="104.72" cy="467.9" r="2.55" fill="url(#gy)" stroke="#b88a00" stroke-width="0.5"/>
<circle cx="110.74" cy="467.9" r="2.55" fill="url(#gy)" stroke="#b88a00" stroke-width="0.5"/>
<circle cx="116.76" cy="467.9" r="2.55" fill="url(#gw)" stroke="#a0a0a0" stroke-width="0.5"/>
<circle cx="122.78" cy="467.9" r="2.55" fill="url(#gg)" stroke="#0a9a0a" stroke-width="0.5"/>
<circle cx="128.8" cy="467.9" r="2.55" fill="url(#gg)" stroke="#0a9a0a" stroke-width="0.5"/>
<circle cx="134.82" cy="467.9" r="2.55" fill="url(#gb)" stroke="#4f7fc0" stroke-width="0.5"/>
<circle cx="140.84" cy="467.9" r="2.55" fill="url(#gb)" stroke="#4f7fc0" stroke-width="0.5"/>
<circle cx="146.86" cy="467.9" r="2.55" fill="url(#gb)" stroke="#4f7fc0" stroke-width="0.5"/>
<circle cx="152.88" cy="467.9" r="2.55" fill="url(#gb)" stroke="#4f7fc0" stroke-width="0.5"/>
<circle cx="158.9" cy="467.9" r="2.55" fill="url(#gb)" stroke="#4f7fc0" stroke-width="0.5"/>
<circle cx="164.92" cy="467.9" r="2.55" fill="url(#gb)" stroke="#4f7fc0" stroke-width="0.5"/>
<circle cx="170.94" cy="467.9" r="2.55" fill="url(#gb)" stroke="#4f7fc0" stroke-width="0.5"/>
<circle cx="176.96" cy="467.9" r="2.55" fill="url(#gb)" stroke="#4f7fc0" stroke-width="0.5"/>
<circle cx="68.6" cy="473.85" r="2.55" fill="url(#gy)" stroke="#b88a00" stroke-width="0.5"/>
<circle cx="74.3" cy="473.85" r="2.55" fill="url(#gy)" stroke="#b88a00" stroke-width="0.5"/>
<circle cx="80.01" cy="473.85" r="2.55" fill="url(#gy)" stroke="#b88a00" stroke-width="0.5"/>
<circle cx="85.71" cy="473.85" r="2.55" fill="url(#gy)" stroke="#b88a00" stroke-width="0.5"/>
<circle cx="91.41" cy="473.85" r="2.55" fill="url(#gy)" stroke="#b88a00" stroke-width="0.5"/>
<circle cx="97.12" cy="473.85" r="2.55" fill="url(#gy)" stroke="#b88a00" stroke-width="0.5"/>
<circle cx="102.82" cy="473.85" r="2.55" fill="url(#gy)" stroke="#b88a00" stroke-width="0.5"/>
<circle cx="108.52" cy="473.85" r="2.55" fill="url(#gy)" stroke="#b88a00" stroke-width="0.5"/>
<circle cx="114.23" cy="473.85" r="2.55" fill="url(#gy)" stroke="#b88a00" stroke-width="0.5"/>
<circle cx="119.93" cy="473.85" r="2.55" fill="url(#gg)" stroke="#0a9a0a" stroke-width="0.5"/>
<circle cx="125.63" cy="473.85" r="2.55" fill="url(#gk)" stroke="#1c1c1c" stroke-width="0.5"/>
<circle cx="131.33" cy="473.85" r="2.55" fill="url(#gg)" stroke="#0a9a0a" stroke-width="0.5"/>
<circle cx="137.04" cy="473.85" r="2.55" fill="url(#gp)" stroke="#b86868" stroke-width="0.5"/>
<circle cx="142.74" cy="473.85" r="2.55" fill="url(#gp)" stroke="#b86868" stroke-width="0.5"/>
<circle cx="148.44" cy="473.85" r="2.55" fill="url(#gp)" stroke="#b86868" stroke-width="0.5"/>
<circle cx="154.15" cy="473.85" r="2.55" fill="url(#gp)" stroke="#b86868" stroke-width="0.5"/>
<circle cx="159.85" cy="473.85" r="2.55" fill="url(#gp)" stroke="#b86868" stroke-width="0.5"/>
<circle cx="165.55" cy="473.85" r="2.55" fill="url(#gp)" stroke="#b86868" stroke-width="0.5"/>
<circle cx="171.26" cy="473.85" r="2.55" fill="url(#gp)" stroke="#b86868" stroke-width="0.5"/>
<circle cx="176.96" cy="473.85" r="2.55" fill="url(#gp)" stroke="#b86868" stroke-width="0.5"/>
<circle cx="68.6" cy="479.8" r="2.55" fill="url(#gp)" stroke="#b86868" stroke-width="0.5"/>
<circle cx="74.3" cy="479.8" r="2.55" fill="url(#gp)" stroke="#b86868" stroke-width="0.5"/>
<circle cx="80.01" cy="479.8" r="2.55" fill="url(#gp)" stroke="#b86868" stroke-width="0.5"/>
<circle cx="85.71" cy="479.8" r="2.55" fill="url(#gp)" stroke="#b86868" stroke-width="0.5"/>
<circle cx="91.41" cy="479.8" r="2.55" fill="url(#gp)" stroke="#b86868" stroke-width="0.5"/>
<circle cx="97.12" cy="479.8" r="2.55" fill="url(#gp)" stroke="#b86868" stroke-width="0.5"/>
<circle cx="102.82" cy="479.8" r="2.55" fill="url(#gp)" stroke="#b86868" stroke-width="0.5"/>
<circle cx="108.52" cy="479.8" r="2.55" fill="url(#gp)" stroke="#b86868" stroke-width="0.5"/>
<circle cx="114.23" cy="479.8" r="2.55" fill="url(#gp)" stroke="#b86868" stroke-width="0.5"/>
<circle cx="119.93" cy="479.8" r="2.55" fill="url(#gp)" stroke="#b86868" stroke-width="0.5"/>
<circle cx="125.63" cy="479.8" r="2.55" fill="url(#gk)" stroke="#1c1c1c" stroke-width="0.5"/>
<circle cx="131.33" cy="479.8" r="2.55" fill="url(#gp)" stroke="#b86868" stroke-width="0.5"/>
<circle cx="137.04" cy="479.8" r="2.55" fill="url(#gp)" stroke="#b86868" stroke-width="0.5"/>
<circle cx="142.74" cy="479.8" r="2.55" fill="url(#gp)" stroke="#b86868" stroke-width="0.5"/>
<circle cx="148.44" cy="479.8" r="2.55" fill="url(#gp)" stroke="#b86868" stroke-width="0.5"/>
<circle cx="154.15" cy="479.8" r="2.55" fill="url(#gp)" stroke="#b86868" stroke-width="0.5"/>
<circle cx="159.85" cy="479.8" r="2.55" fill="url(#gp)" stroke="#b86868" stroke-width="0.5"/>
<circle cx="165.55" cy="479.8" r="2.55" fill="url(#gp)" stroke="#b86868" stroke-width="0.5"/>
<circle cx="171.26" cy="479.8" r="2.55" fill="url(#gp)" stroke="#b86868" stroke-width="0.5"/>
<circle cx="176.96" cy="479.8" r="2.55" fill="url(#gp)" stroke="#b86868" stroke-width="0.5"/>
<circle cx="68.6" cy="485.75" r="2.55" fill="url(#gp)" stroke="#b86868" stroke-width="0.5"/>
<circle cx="74.3" cy="485.75" r="2.55" fill="url(#gp)" stroke="#b86868" stroke-width="0.5"/>
<circle cx="80.01" cy="485.75" r="2.55" fill="url(#gp)" stroke="#b86868" stroke-width="0.5"/>
<circle cx="85.71" cy="485.75" r="2.55" fill="url(#gp)" stroke="#b86868" stroke-width="0.5"/>
<circle cx="91.41" cy="485.75" r="2.55" fill="url(#gp)" stroke="#b86868" stroke-width="0.5"/>
<circle cx="97.12" cy="485.75" r="2.55" fill="url(#gp)" stroke="#b86868" stroke-width="0.5"/>
<circle cx="102.82" cy="485.75" r="2.55" fill="url(#gp)" stroke="#b86868" stroke-width="0.5"/>
<circle cx="108.52" cy="485.75" r="2.55" fill="url(#gp)" stroke="#b86868" stroke-width="0.5"/>
<circle cx="114.23" cy="485.75" r="2.55" fill="url(#gp)" stroke="#b86868" stroke-width="0.5"/>
<circle cx="119.93" cy="485.75" r="2.55" fill="url(#gp)" stroke="#b86868" stroke-width="0.5"/>
<circle cx="125.63" cy="485.75" r="2.55" fill="url(#gk)" stroke="#1c1c1c" stroke-width="0.5"/>
<circle cx="131.33" cy="485.75" r="2.55" fill="url(#gp)" stroke="#b86868" stroke-width="0.5"/>
<circle cx="137.04" cy="485.75" r="2.55" fill="url(#gp)" stroke="#b86868" stroke-width="0.5"/>
<circle cx="142.74" cy="485.75" r="2.55" fill="url(#gp)" stroke="#b86868" stroke-width="0.5"/>
<circle cx="148.44" cy="485.75" r="2.55" fill="url(#gp)" stroke="#b86868" stroke-width="0.5"/>
<circle cx="154.15" cy="485.75" r="2.55" fill="url(#gp)" stroke="#b86868" stroke-width="0.5"/>
<circle cx="159.85" cy="485.75" r="2.55" fill="url(#gp)" stroke="#b86868" stroke-width="0.5"/>
<circle cx="165.55" cy="485.75" r="2.55" fill="url(#gp)" stroke="#b86868" stroke-width="0.5"/>
<circle cx="171.26" cy="485.75" r="2.55" fill="url(#gp)" stroke="#b86868" stroke-width="0.5"/>
<circle cx="176.96" cy="485.75" r="2.55" fill="url(#gp)" stroke="#b86868" stroke-width="0.5"/>
<circle cx="74.62" cy="467.9" r="3.4" fill="url(#gv)"/>
<circle cx="110.6" cy="601" r="2.55" fill="url(#gb)" stroke="#4f7fc0" stroke-width="0.5"/>
<circle cx="116.62" cy="601" r="2.55" fill="url(#gb)" stroke="#4f7fc0" stroke-width="0.5"/>
<circle cx="122.64" cy="601" r="2.55" fill="url(#gb)" stroke="#4f7fc0" stroke-width="0.5"/>
<circle cx="128.66" cy="601" r="2.55" fill="url(#gb)" stroke="#4f7fc0" stroke-width="0.5"/>
<circle cx="134.68" cy="601" r="2.55" fill="url(#gb)" stroke="#4f7fc0" stroke-width="0.5"/>
<circle cx="140.7" cy="601" r="2.55" fill="url(#gb)" stroke="#4f7fc0" stroke-width="0.5"/>
<circle cx="146.72" cy="601" r="2.55" fill="url(#gb)" stroke="#4f7fc0" stroke-width="0.5"/>
<circle cx="152.74" cy="601" r="2.55" fill="url(#gb)" stroke="#4f7fc0" stroke-width="0.5"/>
<circle cx="158.76" cy="601" r="2.55" fill="url(#gb)" stroke="#4f7fc0" stroke-width="0.5"/>
<circle cx="164.78" cy="601" r="2.55" fill="url(#gb)" stroke="#4f7fc0" stroke-width="0.5"/>
<circle cx="170.8" cy="601" r="2.55" fill="url(#gb)" stroke="#4f7fc0" stroke-width="0.5"/>
<circle cx="176.82" cy="601" r="2.55" fill="url(#gb)" stroke="#4f7fc0" stroke-width="0.5"/>
<circle cx="182.84" cy="601" r="2.55" fill="url(#gb)" stroke="#4f7fc0" stroke-width="0.5"/>
<circle cx="188.86" cy="601" r="2.55" fill="url(#gb)" stroke="#4f7fc0" stroke-width="0.5"/>
<circle cx="194.88" cy="601" r="2.55" fill="url(#gb)" stroke="#4f7fc0" stroke-width="0.5"/>
<circle cx="200.9" cy="601" r="2.55" fill="url(#gb)" stroke="#4f7fc0" stroke-width="0.5"/>
<circle cx="206.92" cy="601" r="2.55" fill="url(#gb)" stroke="#4f7fc0" stroke-width="0.5"/>
<circle cx="212.94" cy="601" r="2.55" fill="url(#gb)" stroke="#4f7fc0" stroke-width="0.5"/>
<circle cx="218.96" cy="601" r="2.55" fill="url(#gb)" stroke="#4f7fc0" stroke-width="0.5"/>
<circle cx="110.6" cy="606.88" r="2.55" fill="url(#gb)" stroke="#4f7fc0" stroke-width="0.5"/>
<circle cx="116.62" cy="606.88" r="2.55" fill="url(#gb)" stroke="#4f7fc0" stroke-width="0.5"/>
<circle cx="122.64" cy="606.88" r="2.55" fill="url(#gb)" stroke="#4f7fc0" stroke-width="0.5"/>
<circle cx="128.66" cy="606.88" r="2.55" fill="url(#gb)" stroke="#4f7fc0" stroke-width="0.5"/>
<circle cx="134.68" cy="606.88" r="2.55" fill="url(#gb)" stroke="#4f7fc0" stroke-width="0.5"/>
<circle cx="140.7" cy="606.88" r="2.55" fill="url(#gb)" stroke="#4f7fc0" stroke-width="0.5"/>
<circle cx="146.72" cy="606.88" r="2.55" fill="url(#gb)" stroke="#4f7fc0" stroke-width="0.5"/>
<circle cx="152.74" cy="606.88" r="2.55" fill="url(#gb)" stroke="#4f7fc0" stroke-width="0.5"/>
<circle cx="158.76" cy="606.88" r="2.55" fill="url(#gb)" stroke="#4f7fc0" stroke-width="0.5"/>
<circle cx="164.78" cy="606.88" r="2.55" fill="url(#gb)" stroke="#4f7fc0" stroke-width="0.5"/>
<circle cx="170.8" cy="606.88" r="2.55" fill="url(#gb)" stroke="#4f7fc0" stroke-width="0.5"/>
<circle cx="176.82" cy="606.88" r="2.55" fill="url(#gb)" stroke="#4f7fc0" stroke-width="0.5"/>
<circle cx="182.84" cy="606.88" r="2.55" fill="url(#gb)" stroke="#4f7fc0" stroke-width="0.5"/>
<circle cx="188.86" cy="606.88" r="2.55" fill="url(#gb)" stroke="#4f7fc0" stroke-width="0.5"/>
<circle cx="194.88" cy="606.88" r="2.55" fill="url(#gb)" stroke="#4f7fc0" stroke-width="0.5"/>
<circle cx="200.9" cy="606.88" r="2.55" fill="url(#gb)" stroke="#4f7fc0" stroke-width="0.5"/>
<circle cx="206.92" cy="606.88" r="2.55" fill="url(#gb)" stroke="#4f7fc0" stroke-width="0.5"/>
<circle cx="212.94" cy="606.88" r="2.55" fill="url(#gb)" stroke="#4f7fc0" stroke-width="0.5"/>
<circle cx="218.96" cy="606.88" r="2.55" fill="url(#gb)" stroke="#4f7fc0" stroke-width="0.5"/>
<circle cx="110.6" cy="612.76" r="2.55" fill="url(#gy)" stroke="#b88a00" stroke-width="0.5"/>
<circle cx="116.62" cy="612.76" r="2.55" fill="url(#gy)" stroke="#b88a00" stroke-width="0.5"/>
<circle cx="122.64" cy="612.76" r="2.55" fill="url(#gy)" stroke="#b88a00" stroke-width="0.5"/>
<circle cx="128.66" cy="612.76" r="2.55" fill="url(#gy)" stroke="#b88a00" stroke-width="0.5"/>
<circle cx="134.68" cy="612.76" r="2.55" fill="url(#gy)" stroke="#b88a00" stroke-width="0.5"/>
<circle cx="140.7" cy="612.76" r="2.55" fill="url(#gy)" stroke="#b88a00" stroke-width="0.5"/>
<circle cx="146.72" cy="612.76" r="2.55" fill="url(#gy)" stroke="#b88a00" stroke-width="0.5"/>
<circle cx="152.74" cy="612.76" r="2.55" fill="url(#gy)" stroke="#b88a00" stroke-width="0.5"/>
<circle cx="158.76" cy="612.76" r="2.55" fill="url(#gy)" stroke="#b88a00" stroke-width="0.5"/>
<circle cx="164.78" cy="612.76" r="2.55" fill="url(#gg)" stroke="#0a9a0a" stroke-width="0.5"/>
<circle cx="176.82" cy="612.76" r="2.55" fill="url(#gg)" stroke="#0a9a0a" stroke-width="0.5"/>
<circle cx="182.84" cy="612.76" r="2.55" fill="url(#gb)" stroke="#4f7fc0" stroke-width="0.5"/>
<circle cx="188.86" cy="612.76" r="2.55" fill="url(#gb)" stroke="#4f7fc0" stroke-width="0.5"/>
<circle cx="194.88" cy="612.76" r="2.55" fill="url(#gb)" stroke="#4f7fc0" stroke-width="0.5"/>
<circle cx="200.9" cy="612.76" r="2.55" fill="url(#gb)" stroke="#4f7fc0" stroke-width="0.5"/>
<circle cx="206.92" cy="612.76" r="2.55" fill="url(#gb)" stroke="#4f7fc0" stroke-width="0.5"/>
<circle cx="212.94" cy="612.76" r="2.55" fill="url(#gb)" stroke="#4f7fc0" stroke-width="0.5"/>
<circle cx="218.96" cy="612.76" r="2.55" fill="url(#gb)" stroke="#4f7fc0" stroke-width="0.5"/>
<circle cx="110.6" cy="618.64" r="2.55" fill="url(#gy)" stroke="#b88a00" stroke-width="0.5"/>
<circle cx="116.3" cy="618.64" r="2.55" fill="url(#gy)" stroke="#b88a00" stroke-width="0.5"/>
<circle cx="122.01" cy="618.64" r="2.55" fill="url(#gy)" stroke="#b88a00" stroke-width="0.5"/>
<circle cx="127.71" cy="618.64" r="2.55" fill="url(#gy)" stroke="#b88a00" stroke-width="0.5"/>
<circle cx="133.41" cy="618.64" r="2.55" fill="url(#gy)" stroke="#b88a00" stroke-width="0.5"/>
<circle cx="139.12" cy="618.64" r="2.55" fill="url(#gy)" stroke="#b88a00" stroke-width="0.5"/>
<circle cx="144.82" cy="618.64" r="2.55" fill="url(#gy)" stroke="#b88a00" stroke-width="0.5"/>
<circle cx="150.52" cy="618.64" r="2.55" fill="url(#gy)" stroke="#b88a00" stroke-width="0.5"/>
<circle cx="156.23" cy="618.64" r="2.55" fill="url(#gy)" stroke="#b88a00" stroke-width="0.5"/>
<circle cx="161.93" cy="618.64" r="2.55" fill="url(#gy)" stroke="#b88a00" stroke-width="0.5"/>
<circle cx="167.63" cy="618.64" r="2.55" fill="url(#gk)" stroke="#1c1c1c" stroke-width="0.5"/>
<circle cx="173.33" cy="618.64" r="2.55" fill="url(#gg)" stroke="#0a9a0a" stroke-width="0.5"/>
<circle cx="179.04" cy="618.64" r="2.55" fill="url(#gp)" stroke="#b86868" stroke-width="0.5"/>
<circle cx="184.74" cy="618.64" r="2.55" fill="url(#gp)" stroke="#b86868" stroke-width="0.5"/>
<circle cx="190.44" cy="618.64" r="2.55" fill="url(#gp)" stroke="#b86868" stroke-width="0.5"/>
<circle cx="196.15" cy="618.64" r="2.55" fill="url(#gp)" stroke="#b86868" stroke-width="0.5"/>
<circle cx="201.85" cy="618.64" r="2.55" fill="url(#gp)" stroke="#b86868" stroke-width="0.5"/>
<circle cx="207.55" cy="618.64" r="2.55" fill="url(#gp)" stroke="#b86868" stroke-width="0.5"/>
<circle cx="213.26" cy="618.64" r="2.55" fill="url(#gp)" stroke="#b86868" stroke-width="0.5"/>
<circle cx="218.96" cy="618.64" r="2.55" fill="url(#gp)" stroke="#b86868" stroke-width="0.5"/>
<circle cx="110.6" cy="624.52" r="2.55" fill="url(#gp)" stroke="#b86868" stroke-width="0.5"/>
<circle cx="116.3" cy="624.52" r="2.55" fill="url(#gp)" stroke="#b86868" stroke-width="0.5"/>
<circle cx="122.01" cy="624.52" r="2.55" fill="url(#gp)" stroke="#b86868" stroke-width="0.5"/>
<circle cx="127.71" cy="624.52" r="2.55" fill="url(#gp)" stroke="#b86868" stroke-width="0.5"/>
<circle cx="133.41" cy="624.52" r="2.55" fill="url(#gp)" stroke="#b86868" stroke-width="0.5"/>
<circle cx="139.12" cy="624.52" r="2.55" fill="url(#gp)" stroke="#b86868" stroke-width="0.5"/>
<circle cx="144.82" cy="624.52" r="2.55" fill="url(#gp)" stroke="#b86868" stroke-width="0.5"/>
<circle cx="150.52" cy="624.52" r="2.55" fill="url(#gp)" stroke="#b86868" stroke-width="0.5"/>
<circle cx="156.23" cy="624.52" r="2.55" fill="url(#gp)" stroke="#b86868" stroke-width="0.5"/>
<circle cx="161.93" cy="624.52" r="2.55" fill="url(#gp)" stroke="#b86868" stroke-width="0.5"/>
<circle cx="167.63" cy="624.52" r="2.55" fill="url(#gk)" stroke="#1c1c1c" stroke-width="0.5"/>
<circle cx="173.33" cy="624.52" r="2.55" fill="url(#gp)" stroke="#b86868" stroke-width="0.5"/>
<circle cx="179.04" cy="624.52" r="2.55" fill="url(#gp)" stroke="#b86868" stroke-width="0.5"/>
<circle cx="184.74" cy="624.52" r="2.55" fill="url(#gp)" stroke="#b86868" stroke-width="0.5"/>
<circle cx="190.44" cy="624.52" r="2.55" fill="url(#gp)" stroke="#b86868" stroke-width="0.5"/>
<circle cx="196.15" cy="624.52" r="2.55" fill="url(#gp)" stroke="#b86868" stroke-width="0.5"/>
<circle cx="201.85" cy="624.52" r="2.55" fill="url(#gp)" stroke="#b86868" stroke-width="0.5"/>
<circle cx="207.55" cy="624.52" r="2.55" fill="url(#gp)" stroke="#b86868" stroke-width="0.5"/>
<circle cx="213.26" cy="624.52" r="2.55" fill="url(#gp)" stroke="#b86868" stroke-width="0.5"/>
<circle cx="218.96" cy="624.52" r="2.55" fill="url(#gp)" stroke="#b86868" stroke-width="0.5"/>
<circle cx="110.6" cy="630.4" r="2.55" fill="url(#gp)" stroke="#b86868" stroke-width="0.5"/>
<circle cx="116.3" cy="630.4" r="2.55" fill="url(#gp)" stroke="#b86868" stroke-width="0.5"/>
<circle cx="122.01" cy="630.4" r="2.55" fill="url(#gp)" stroke="#b86868" stroke-width="0.5"/>
<circle cx="127.71" cy="630.4" r="2.55" fill="url(#gp)" stroke="#b86868" stroke-width="0.5"/>
<circle cx="133.41" cy="630.4" r="2.55" fill="url(#gp)" stroke="#b86868" stroke-width="0.5"/>
<circle cx="139.12" cy="630.4" r="2.55" fill="url(#gp)" stroke="#b86868" stroke-width="0.5"/>
<circle cx="144.82" cy="630.4" r="2.55" fill="url(#gp)" stroke="#b86868" stroke-width="0.5"/>
<circle cx="150.52" cy="630.4" r="2.55" fill="url(#gp)" stroke="#b86868" stroke-width="0.5"/>
<circle cx="156.23" cy="630.4" r="2.55" fill="url(#gp)" stroke="#b86868" stroke-width="0.5"/>
<circle cx="161.93" cy="630.4" r="2.55" fill="url(#gp)" stroke="#b86868" stroke-width="0.5"/>
<circle cx="167.63" cy="630.4" r="2.55" fill="url(#gk)" stroke="#1c1c1c" stroke-width="0.5"/>
<circle cx="173.33" cy="630.4" r="2.55" fill="url(#gp)" stroke="#b86868" stroke-width="0.5"/>
<circle cx="179.04" cy="630.4" r="2.55" fill="url(#gp)" stroke="#b86868" stroke-width="0.5"/>
<circle cx="184.74" cy="630.4" r="2.55" fill="url(#gp)" stroke="#b86868" stroke-width="0.5"/>
<circle cx="190.44" cy="630.4" r="2.55" fill="url(#gp)" stroke="#b86868" stroke-width="0.5"/>
<circle cx="196.15" cy="630.4" r="2.55" fill="url(#gp)" stroke="#b86868" stroke-width="0.5"/>
<circle cx="201.85" cy="630.4" r="2.55" fill="url(#gp)" stroke="#b86868" stroke-width="0.5"/>
<circle cx="207.55" cy="630.4" r="2.55" fill="url(#gp)" stroke="#b86868" stroke-width="0.5"/>
<circle cx="213.26" cy="630.4" r="2.55" fill="url(#gp)" stroke="#b86868" stroke-width="0.5"/>
<circle cx="218.96" cy="630.4" r="2.55" fill="url(#gp)" stroke="#b86868" stroke-width="0.5"/>
<circle cx="170.8" cy="612.76" r="3.4" fill="url(#gv)"/>
<circle cx="228.3" cy="729.6" r="2.55" fill="url(#gb)" stroke="#4f7fc0" stroke-width="0.5"/>
<circle cx="234.32" cy="729.6" r="2.55" fill="url(#gb)" stroke="#4f7fc0" stroke-width="0.5"/>
<circle cx="240.34" cy="729.6" r="2.55" fill="url(#gb)" stroke="#4f7fc0" stroke-width="0.5"/>
<circle cx="246.36" cy="729.6" r="2.55" fill="url(#gb)" stroke="#4f7fc0" stroke-width="0.5"/>
<circle cx="252.38" cy="729.6" r="2.55" fill="url(#gb)" stroke="#4f7fc0" stroke-width="0.5"/>
<circle cx="258.4" cy="729.6" r="2.55" fill="url(#gb)" stroke="#4f7fc0" stroke-width="0.5"/>
<circle cx="264.42" cy="729.6" r="2.55" fill="url(#gb)" stroke="#4f7fc0" stroke-width="0.5"/>
<circle cx="270.44" cy="729.6" r="2.55" fill="url(#gb)" stroke="#4f7fc0" stroke-width="0.5"/>
<circle cx="276.46" cy="729.6" r="2.55" fill="url(#gb)" stroke="#4f7fc0" stroke-width="0.5"/>
<circle cx="282.48" cy="729.6" r="2.55" fill="url(#gb)" stroke="#4f7fc0" stroke-width="0.5"/>
<circle cx="288.5" cy="729.6" r="2.55" fill="url(#gb)" stroke="#4f7fc0" stroke-width="0.5"/>
<circle cx="294.52" cy="729.6" r="2.55" fill="url(#gb)" stroke="#4f7fc0" stroke-width="0.5"/>
<circle cx="300.54" cy="729.6" r="2.55" fill="url(#gb)" stroke="#4f7fc0" stroke-width="0.5"/>
<circle cx="306.56" cy="729.6" r="2.55" fill="url(#gb)" stroke="#4f7fc0" stroke-width="0.5"/>
<circle cx="312.58" cy="729.6" r="2.55" fill="url(#gb)" stroke="#4f7fc0" stroke-width="0.5"/>
<circle cx="318.6" cy="729.6" r="2.55" fill="url(#gb)" stroke="#4f7fc0" stroke-width="0.5"/>
<circle cx="324.62" cy="729.6" r="2.55" fill="url(#gb)" stroke="#4f7fc0" stroke-width="0.5"/>
<circle cx="330.64" cy="729.6" r="2.55" fill="url(#gb)" stroke="#4f7fc0" stroke-width="0.5"/>
<circle cx="336.66" cy="729.6" r="2.55" fill="url(#gb)" stroke="#4f7fc0" stroke-width="0.5"/>
<circle cx="228.3" cy="735.5" r="2.55" fill="url(#gb)" stroke="#4f7fc0" stroke-width="0.5"/>
<circle cx="234.32" cy="735.5" r="2.55" fill="url(#gb)" stroke="#4f7fc0" stroke-width="0.5"/>
<circle cx="240.34" cy="735.5" r="2.55" fill="url(#gb)" stroke="#4f7fc0" stroke-width="0.5"/>
<circle cx="246.36" cy="735.5" r="2.55" fill="url(#gb)" stroke="#4f7fc0" stroke-width="0.5"/>
<circle cx="252.38" cy="735.5" r="2.55" fill="url(#gb)" stroke="#4f7fc0" stroke-width="0.5"/>
<circle cx="258.4" cy="735.5" r="2.55" fill="url(#gb)" stroke="#4f7fc0" stroke-width="0.5"/>
<circle cx="264.42" cy="735.5" r="2.55" fill="url(#gb)" stroke="#4f7fc0" stroke-width="0.5"/>
<circle cx="270.44" cy="735.5" r="2.55" fill="url(#gb)" stroke="#4f7fc0" stroke-width="0.5"/>
<circle cx="276.46" cy="735.5" r="2.55" fill="url(#gb)" stroke="#4f7fc0" stroke-width="0.5"/>
<circle cx="282.48" cy="735.5" r="2.55" fill="url(#gb)" stroke="#4f7fc0" stroke-width="0.5"/>
<circle cx="288.5" cy="735.5" r="2.55" fill="url(#gb)" stroke="#4f7fc0" stroke-width="0.5"/>
<circle cx="294.52" cy="735.5" r="2.55" fill="url(#gb)" stroke="#4f7fc0" stroke-width="0.5"/>
<circle cx="300.54" cy="735.5" r="2.55" fill="url(#gb)" stroke="#4f7fc0" stroke-width="0.5"/>
<circle cx="306.56" cy="735.5" r="2.55" fill="url(#gb)" stroke="#4f7fc0" stroke-width="0.5"/>
<circle cx="312.58" cy="735.5" r="2.55" fill="url(#gb)" stroke="#4f7fc0" stroke-width="0.5"/>
<circle cx="318.6" cy="735.5" r="2.55" fill="url(#gb)" stroke="#4f7fc0" stroke-width="0.5"/>
<circle cx="324.62" cy="735.5" r="2.55" fill="url(#gb)" stroke="#4f7fc0" stroke-width="0.5"/>
<circle cx="330.64" cy="735.5" r="2.55" fill="url(#gb)" stroke="#4f7fc0" stroke-width="0.5"/>
<circle cx="336.66" cy="735.5" r="2.55" fill="url(#gb)" stroke="#4f7fc0" stroke-width="0.5"/>
<circle cx="228.3" cy="741.4" r="2.55" fill="url(#gy)" stroke="#b88a00" stroke-width="0.5"/>
<circle cx="234.32" cy="741.4" r="2.55" fill="url(#gy)" stroke="#b88a00" stroke-width="0.5"/>
<circle cx="240.34" cy="741.4" r="2.55" fill="url(#gy)" stroke="#b88a00" stroke-width="0.5"/>
<circle cx="246.36" cy="741.4" r="2.55" fill="url(#gy)" stroke="#b88a00" stroke-width="0.5"/>
<circle cx="252.38" cy="741.4" r="2.55" fill="url(#gy)" stroke="#b88a00" stroke-width="0.5"/>
<circle cx="258.4" cy="741.4" r="2.55" fill="url(#gy)" stroke="#b88a00" stroke-width="0.5"/>
<circle cx="264.42" cy="741.4" r="2.55" fill="url(#gy)" stroke="#b88a00" stroke-width="0.5"/>
<circle cx="270.44" cy="741.4" r="2.55" fill="url(#gy)" stroke="#b88a00" stroke-width="0.5"/>
<circle cx="276.46" cy="741.4" r="2.55" fill="url(#gy)" stroke="#b88a00" stroke-width="0.5"/>
<circle cx="282.48" cy="741.4" r="2.55" fill="url(#gg)" stroke="#0a9a0a" stroke-width="0.5"/>
<circle cx="288.5" cy="741.4" r="2.55" fill="url(#gg)" stroke="#0a9a0a" stroke-width="0.5"/>
<circle cx="294.52" cy="741.4" r="2.55" fill="url(#gb)" stroke="#4f7fc0" stroke-width="0.5"/>
<circle cx="300.54" cy="741.4" r="2.55" fill="url(#gb)" stroke="#4f7fc0" stroke-width="0.5"/>
<circle cx="306.56" cy="741.4" r="2.55" fill="url(#gb)" stroke="#4f7fc0" stroke-width="0.5"/>
<circle cx="312.58" cy="741.4" r="2.55" fill="url(#gb)" stroke="#4f7fc0" stroke-width="0.5"/>
<circle cx="318.6" cy="741.4" r="2.55" fill="url(#gb)" stroke="#4f7fc0" stroke-width="0.5"/>
<circle cx="324.62" cy="741.4" r="2.55" fill="url(#gb)" stroke="#4f7fc0" stroke-width="0.5"/>
<circle cx="336.66" cy="741.4" r="2.55" fill="url(#gb)" stroke="#4f7fc0" stroke-width="0.5"/>
<circle cx="228.3" cy="747.3" r="2.55" fill="url(#gy)" stroke="#b88a00" stroke-width="0.5"/>
<circle cx="234" cy="747.3" r="2.55" fill="url(#gy)" stroke="#b88a00" stroke-width="0.5"/>
<circle cx="239.71" cy="747.3" r="2.55" fill="url(#gy)" stroke="#b88a00" stroke-width="0.5"/>
<circle cx="245.41" cy="747.3" r="2.55" fill="url(#gy)" stroke="#b88a00" stroke-width="0.5"/>
<circle cx="251.11" cy="747.3" r="2.55" fill="url(#gy)" stroke="#b88a00" stroke-width="0.5"/>
<circle cx="256.82" cy="747.3" r="2.55" fill="url(#gy)" stroke="#b88a00" stroke-width="0.5"/>
<circle cx="262.52" cy="747.3" r="2.55" fill="url(#gy)" stroke="#b88a00" stroke-width="0.5"/>
<circle cx="268.22" cy="747.3" r="2.55" fill="url(#gy)" stroke="#b88a00" stroke-width="0.5"/>
<circle cx="273.93" cy="747.3" r="2.55" fill="url(#gy)" stroke="#b88a00" stroke-width="0.5"/>
<circle cx="279.63" cy="747.3" r="2.55" fill="url(#gg)" stroke="#0a9a0a" stroke-width="0.5"/>
<circle cx="285.33" cy="747.3" r="2.55" fill="url(#gk)" stroke="#1c1c1c" stroke-width="0.5"/>
<circle cx="291.03" cy="747.3" r="2.55" fill="url(#gg)" stroke="#0a9a0a" stroke-width="0.5"/>
<circle cx="296.74" cy="747.3" r="2.55" fill="url(#gp)" stroke="#b86868" stroke-width="0.5"/>
<circle cx="302.44" cy="747.3" r="2.55" fill="url(#gp)" stroke="#b86868" stroke-width="0.5"/>
<circle cx="308.14" cy="747.3" r="2.55" fill="url(#gp)" stroke="#b86868" stroke-width="0.5"/>
<circle cx="313.85" cy="747.3" r="2.55" fill="url(#gp)" stroke="#b86868" stroke-width="0.5"/>
<circle cx="319.55" cy="747.3" r="2.55" fill="url(#gp)" stroke="#b86868" stroke-width="0.5"/>
<circle cx="325.25" cy="747.3" r="2.55" fill="url(#gp)" stroke="#b86868" stroke-width="0.5"/>
<circle cx="330.96" cy="747.3" r="2.55" fill="url(#gp)" stroke="#b86868" stroke-width="0.5"/>
<circle cx="336.66" cy="747.3" r="2.55" fill="url(#gp)" stroke="#b86868" stroke-width="0.5"/>
<circle cx="228.3" cy="753.2" r="2.55" fill="url(#gp)" stroke="#b86868" stroke-width="0.5"/>
<circle cx="234" cy="753.2" r="2.55" fill="url(#gp)" stroke="#b86868" stroke-width="0.5"/>
<circle cx="239.71" cy="753.2" r="2.55" fill="url(#gp)" stroke="#b86868" stroke-width="0.5"/>
<circle cx="245.41" cy="753.2" r="2.55" fill="url(#gp)" stroke="#b86868" stroke-width="0.5"/>
<circle cx="251.11" cy="753.2" r="2.55" fill="url(#gp)" stroke="#b86868" stroke-width="0.5"/>
<circle cx="256.82" cy="753.2" r="2.55" fill="url(#gp)" stroke="#b86868" stroke-width="0.5"/>
<circle cx="262.52" cy="753.2" r="2.55" fill="url(#gp)" stroke="#b86868" stroke-width="0.5"/>
<circle cx="268.22" cy="753.2" r="2.55" fill="url(#gp)" stroke="#b86868" stroke-width="0.5"/>
<circle cx="273.93" cy="753.2" r="2.55" fill="url(#gp)" stroke="#b86868" stroke-width="0.5"/>
<circle cx="279.63" cy="753.2" r="2.55" fill="url(#gp)" stroke="#b86868" stroke-width="0.5"/>
<circle cx="285.33" cy="753.2" r="2.55" fill="url(#gk)" stroke="#1c1c1c" stroke-width="0.5"/>
<circle cx="291.03" cy="753.2" r="2.55" fill="url(#gp)" stroke="#b86868" stroke-width="0.5"/>
<circle cx="296.74" cy="753.2" r="2.55" fill="url(#gp)" stroke="#b86868" stroke-width="0.5"/>
<circle cx="302.44" cy="753.2" r="2.55" fill="url(#gp)" stroke="#b86868" stroke-width="0.5"/>
<circle cx="308.14" cy="753.2" r="2.55" fill="url(#gp)" stroke="#b86868" stroke-width="0.5"/>
<circle cx="313.85" cy="753.2" r="2.55" fill="url(#gp)" stroke="#b86868" stroke-width="0.5"/>
<circle cx="319.55" cy="753.2" r="2.55" fill="url(#gp)" stroke="#b86868" stroke-width="0.5"/>
<circle cx="325.25" cy="753.2" r="2.55" fill="url(#gp)" stroke="#b86868" stroke-width="0.5"/>
<circle cx="330.96" cy="753.2" r="2.55" fill="url(#gp)" stroke="#b86868" stroke-width="0.5"/>
<circle cx="336.66" cy="753.2" r="2.55" fill="url(#gp)" stroke="#b86868" stroke-width="0.5"/>
<circle cx="228.3" cy="759.1" r="2.55" fill="url(#gp)" stroke="#b86868" stroke-width="0.5"/>
<circle cx="234" cy="759.1" r="2.55" fill="url(#gp)" stroke="#b86868" stroke-width="0.5"/>
<circle cx="239.71" cy="759.1" r="2.55" fill="url(#gp)" stroke="#b86868" stroke-width="0.5"/>
<circle cx="245.41" cy="759.1" r="2.55" fill="url(#gp)" stroke="#b86868" stroke-width="0.5"/>
<circle cx="251.11" cy="759.1" r="2.55" fill="url(#gp)" stroke="#b86868" stroke-width="0.5"/>
<circle cx="256.82" cy="759.1" r="2.55" fill="url(#gp)" stroke="#b86868" stroke-width="0.5"/>
<circle cx="262.52" cy="759.1" r="2.55" fill="url(#gp)" stroke="#b86868" stroke-width="0.5"/>
<circle cx="268.22" cy="759.1" r="2.55" fill="url(#gp)" stroke="#b86868" stroke-width="0.5"/>
<circle cx="273.93" cy="759.1" r="2.55" fill="url(#gp)" stroke="#b86868" stroke-width="0.5"/>
<circle cx="279.63" cy="759.1" r="2.55" fill="url(#gp)" stroke="#b86868" stroke-width="0.5"/>
<circle cx="285.33" cy="759.1" r="2.55" fill="url(#gk)" stroke="#1c1c1c" stroke-width="0.5"/>
<circle cx="291.03" cy="759.1" r="2.55" fill="url(#gp)" stroke="#b86868" stroke-width="0.5"/>
<circle cx="296.74" cy="759.1" r="2.55" fill="url(#gp)" stroke="#b86868" stroke-width="0.5"/>
<circle cx="302.44" cy="759.1" r="2.55" fill="url(#gp)" stroke="#b86868" stroke-width="0.5"/>
<circle cx="308.14" cy="759.1" r="2.55" fill="url(#gp)" stroke="#b86868" stroke-width="0.5"/>
<circle cx="313.85" cy="759.1" r="2.55" fill="url(#gp)" stroke="#b86868" stroke-width="0.5"/>
<circle cx="319.55" cy="759.1" r="2.55" fill="url(#gp)" stroke="#b86868" stroke-width="0.5"/>
<circle cx="325.25" cy="759.1" r="2.55" fill="url(#gp)" stroke="#b86868" stroke-width="0.5"/>
<circle cx="330.96" cy="759.1" r="2.55" fill="url(#gp)" stroke="#b86868" stroke-width="0.5"/>
<circle cx="336.66" cy="759.1" r="2.55" fill="url(#gp)" stroke="#b86868" stroke-width="0.5"/>
<circle cx="330.64" cy="741.4" r="3.4" fill="url(#gv)"/>
<path d="M48.6 633.86 L65.2 633.86 L82 633.86 L98.3 610.04 L115.2 586.22 L131.9 562.4 L148.6 538.58 L165.2 514.76 L182 490.94 L199.4 490.94 L216.5 467.12 L232.8 467.12 L249.8 467.12 L268.5 538.58 L285.9 586.22 L302.9 610.04 L319.7 633.86 L335.8 633.86" fill="none" stroke="#74aaf0" stroke-width="1.2" stroke-dasharray="4.6 3.2"/>
<path d="M48.6 729.1 L64.7 729.3 L81 730.2 L97.4 731.1 L113.5 731.4 L129.7 730.7 L146 729.2 L162.4 728.2 L178.6 726.6 L195.7 724.2 L211.4 717.4 L227.1 689.7 L240.2 674 L256.2 679.6 L272.1 678 L288 676.4 L305.1 675.3 L321.1 675.8 L354.1 674.4" fill="none" stroke="#e5898a" stroke-width="1.2"/>
<rect x="46.65" y="631.91" width="3.9" height="3.9" fill="#b13cf0" fill-opacity="0.75" stroke="#a126ea" stroke-width="0.6"/>
<rect x="63.25" y="631.91" width="3.9" height="3.9" fill="#b13cf0" fill-opacity="0.75" stroke="#a126ea" stroke-width="0.6"/>
<rect x="80.05" y="631.91" width="3.9" height="3.9" fill="#b13cf0" fill-opacity="0.75" stroke="#a126ea" stroke-width="0.6"/>
<rect x="96.35" y="608.09" width="3.9" height="3.9" fill="#b13cf0" fill-opacity="0.75" stroke="#a126ea" stroke-width="0.6"/>
<rect x="113.25" y="584.27" width="3.9" height="3.9" fill="#b13cf0" fill-opacity="0.75" stroke="#a126ea" stroke-width="0.6"/>
<rect x="129.95" y="560.45" width="3.9" height="3.9" fill="#b13cf0" fill-opacity="0.75" stroke="#a126ea" stroke-width="0.6"/>
<rect x="146.65" y="536.63" width="3.9" height="3.9" fill="#b13cf0" fill-opacity="0.75" stroke="#a126ea" stroke-width="0.6"/>
<rect x="163.25" y="512.81" width="3.9" height="3.9" fill="#b13cf0" fill-opacity="0.75" stroke="#a126ea" stroke-width="0.6"/>
<rect x="180.05" y="488.99" width="3.9" height="3.9" fill="#b13cf0" fill-opacity="0.75" stroke="#a126ea" stroke-width="0.6"/>
<rect x="197.45" y="488.99" width="3.9" height="3.9" fill="#b13cf0" fill-opacity="0.75" stroke="#a126ea" stroke-width="0.6"/>
<rect x="214.55" y="465.17" width="3.9" height="3.9" fill="#b13cf0" fill-opacity="0.75" stroke="#a126ea" stroke-width="0.6"/>
<rect x="230.85" y="465.17" width="3.9" height="3.9" fill="#b13cf0" fill-opacity="0.75" stroke="#a126ea" stroke-width="0.6"/>
<rect x="247.85" y="465.17" width="3.9" height="3.9" fill="#b13cf0" fill-opacity="0.75" stroke="#a126ea" stroke-width="0.6"/>
<rect x="266.55" y="536.63" width="3.9" height="3.9" fill="#b13cf0" fill-opacity="0.75" stroke="#a126ea" stroke-width="0.6"/>
<rect x="283.95" y="584.27" width="3.9" height="3.9" fill="#b13cf0" fill-opacity="0.75" stroke="#a126ea" stroke-width="0.6"/>
<rect x="300.95" y="608.09" width="3.9" height="3.9" fill="#b13cf0" fill-opacity="0.75" stroke="#a126ea" stroke-width="0.6"/>
<rect x="317.75" y="631.91" width="3.9" height="3.9" fill="#b13cf0" fill-opacity="0.75" stroke="#a126ea" stroke-width="0.6"/>
<rect x="333.85" y="631.91" width="3.9" height="3.9" fill="#b13cf0" fill-opacity="0.75" stroke="#a126ea" stroke-width="0.6"/>
<circle cx="48.6" cy="729.1" r="2.85" fill="#b13cf0" fill-opacity="0.72" stroke="#a126ea" stroke-width="0.7"/>
<circle cx="64.7" cy="729.3" r="2.85" fill="#b13cf0" fill-opacity="0.72" stroke="#a126ea" stroke-width="0.7"/>
<circle cx="81" cy="730.2" r="2.85" fill="#b13cf0" fill-opacity="0.72" stroke="#a126ea" stroke-width="0.7"/>
<circle cx="97.4" cy="731.1" r="2.85" fill="#b13cf0" fill-opacity="0.72" stroke="#a126ea" stroke-width="0.7"/>
<circle cx="113.5" cy="731.4" r="2.85" fill="#b13cf0" fill-opacity="0.72" stroke="#a126ea" stroke-width="0.7"/>
<circle cx="129.7" cy="730.7" r="2.85" fill="#b13cf0" fill-opacity="0.72" stroke="#a126ea" stroke-width="0.7"/>
<circle cx="146" cy="729.2" r="2.85" fill="#b13cf0" fill-opacity="0.72" stroke="#a126ea" stroke-width="0.7"/>
<circle cx="162.4" cy="728.2" r="2.85" fill="#b13cf0" fill-opacity="0.72" stroke="#a126ea" stroke-width="0.7"/>
<circle cx="178.6" cy="726.6" r="2.85" fill="#b13cf0" fill-opacity="0.72" stroke="#a126ea" stroke-width="0.7"/>
<circle cx="195.7" cy="724.2" r="2.85" fill="#b13cf0" fill-opacity="0.72" stroke="#a126ea" stroke-width="0.7"/>
<circle cx="211.4" cy="717.4" r="2.85" fill="#b13cf0" fill-opacity="0.72" stroke="#a126ea" stroke-width="0.7"/>
<circle cx="227.1" cy="689.7" r="2.85" fill="#b13cf0" fill-opacity="0.72" stroke="#a126ea" stroke-width="0.7"/>
<circle cx="240.2" cy="674" r="2.85" fill="#b13cf0" fill-opacity="0.72" stroke="#a126ea" stroke-width="0.7"/>
<circle cx="256.2" cy="679.6" r="2.85" fill="#b13cf0" fill-opacity="0.72" stroke="#a126ea" stroke-width="0.7"/>
<circle cx="272.1" cy="678" r="2.85" fill="#b13cf0" fill-opacity="0.72" stroke="#a126ea" stroke-width="0.7"/>
<circle cx="288" cy="676.4" r="2.85" fill="#b13cf0" fill-opacity="0.72" stroke="#a126ea" stroke-width="0.7"/>
<circle cx="305.1" cy="675.3" r="2.85" fill="#b13cf0" fill-opacity="0.72" stroke="#a126ea" stroke-width="0.7"/>
<circle cx="321.1" cy="675.8" r="2.85" fill="#b13cf0" fill-opacity="0.72" stroke="#a126ea" stroke-width="0.7"/>
<circle cx="354.1" cy="674.4" r="2.85" fill="#b13cf0" fill-opacity="0.72" stroke="#a126ea" stroke-width="0.7"/>
<line x1="73.8" y1="488.9" x2="65.3" y2="633.6" stroke="#646464" stroke-width="1.2"/>
<line x1="201.9" y1="599" x2="249.8" y2="467.1" stroke="#646464" stroke-width="1.2"/>
<line x1="336.4" y1="634" x2="331.6" y2="726.3" stroke="#646464" stroke-width="1.2"/>
<circle cx="97.2" cy="649.9" r="5.7" fill="url(#Lv)"/>
<text x="106" y="653.1" font-family='"Liberation Sans", sans-serif' font-size="8.4" fill="#111" stroke="#111" stroke-width="0.15">Re</text>
<circle cx="97.2" cy="662.65" r="5.1" fill="url(#Lb)"/>
<text x="106" y="665.85" font-family='"Liberation Sans", sans-serif' font-size="8.4" fill="#111" stroke="#111" stroke-width="0.15">FCC-Ni under tension</text>
<circle cx="97.2" cy="675.4" r="5.1" fill="url(#Lp)"/>
<text x="106" y="678.6" font-family='"Liberation Sans", sans-serif' font-size="8.4" fill="#111" stroke="#111" stroke-width="0.15">FCC-Ni under compression</text>
<circle cx="97.2" cy="688.15" r="5.1" fill="url(#Ly)"/>
<text x="106" y="691.35" font-family='"Liberation Sans", sans-serif' font-size="8.4" fill="#111" stroke="#111" stroke-width="0.15">HCP-Ni</text>
<circle cx="97.2" cy="700.9" r="5.1" fill="url(#Lg)"/>
<text x="106" y="704.1" font-family='"Liberation Sans", sans-serif' font-size="8.4" fill="#111" stroke="#111" stroke-width="0.15">Other-Ni</text>
<circle cx="97.2" cy="713.65" r="5.1" fill="url(#Lk2)"/>
<text x="106" y="716.85" font-family='"Liberation Sans", sans-serif' font-size="8.4" fill="#111" stroke="#111" stroke-width="0.15">Extra-half plane</text>
<g transform="translate(15.6,610) rotate(-90)" font-family='"Liberation Sans", sans-serif' fill="#111" stroke="#111" stroke-width="0.25">
<text x="-21.2" y="-0.8" font-size="11" font-style="italic" font-family='"Liberation Serif", serif'>&#956;</text>
<text x="-13.6" y="5.0" font-size="9.2">2</text>
<text x="-13.2" y="-6.4" font-size="9.6">bulk</text>
<text x="4.0" y="-1.6" font-size="9.6">/</text>
<text x="7.7" y="-0.8" font-size="11" font-style="italic" font-family='"Liberation Serif", serif'>&#956;</text>
<text x="14.6" y="5.0" font-size="9.2">2</text>
</g>
<text x="201.4" y="806.1" text-anchor="middle" font-family='"Liberation Sans", sans-serif' font-size="12.1" fill="#111" stroke="#111" stroke-width="0.3">distance (nm)</text>
</svg></body></html>
